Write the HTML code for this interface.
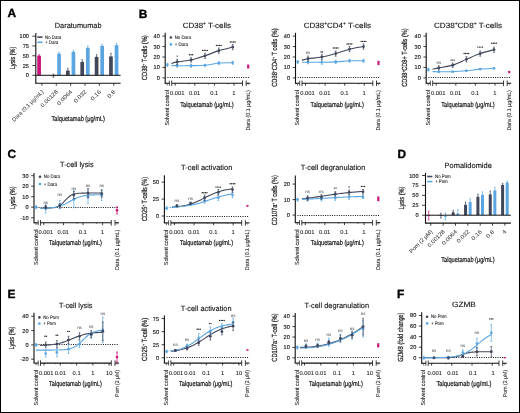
<!DOCTYPE html>
<html><head><meta charset="utf-8"><style>
html,body{margin:0;padding:0;background:#fff;}
svg{display:block;will-change:transform;}
text{font-family:"Liberation Sans",sans-serif;text-rendering:geometricPrecision;}
</style></head><body>
<svg width="520" height="413" viewBox="0 0 520 413">
<rect x="0.5" y="0.5" width="519" height="412" fill="#fff" stroke="#000" stroke-width="1"/>
<text x="7.4" y="17.4" font-size="11.9" fill="#000" stroke="#000" stroke-width="0.35" font-weight="bold">A</text>
<text x="138.7" y="17.6" font-size="11.9" fill="#000" stroke="#000" stroke-width="0.35" font-weight="bold">B</text>
<text x="7.6" y="158" font-size="11.9" fill="#000" stroke="#000" stroke-width="0.35" font-weight="bold">C</text>
<text x="397.6" y="157.5" font-size="11.9" fill="#000" stroke="#000" stroke-width="0.35" font-weight="bold">D</text>
<text x="7.6" y="297.5" font-size="11.9" fill="#000" stroke="#000" stroke-width="0.35" font-weight="bold">E</text>
<text x="397.1" y="297.5" font-size="11.9" fill="#000" stroke="#000" stroke-width="0.35" font-weight="bold">F</text>
<line x1="35.8" y1="32.9" x2="35.8" y2="83.75" stroke="#111" stroke-width="1.1" />
<line x1="32.3" y1="75.3" x2="35.8" y2="75.3" stroke="#111" stroke-width="0.8" />
<text x="28.9" y="77.3" font-size="5.6" fill="#222" stroke="#222" stroke-width="0.15" text-anchor="end">0</text>
<line x1="32.3" y1="65.52" x2="35.8" y2="65.52" stroke="#111" stroke-width="0.8" />
<text x="28.9" y="67.52" font-size="5.6" fill="#222" stroke="#222" stroke-width="0.15" text-anchor="end">25</text>
<line x1="32.3" y1="55.75" x2="35.8" y2="55.75" stroke="#111" stroke-width="0.8" />
<text x="28.9" y="57.75" font-size="5.6" fill="#222" stroke="#222" stroke-width="0.15" text-anchor="end">50</text>
<line x1="32.3" y1="45.97" x2="35.8" y2="45.97" stroke="#111" stroke-width="0.8" />
<text x="28.9" y="47.97" font-size="5.6" fill="#222" stroke="#222" stroke-width="0.15" text-anchor="end">75</text>
<line x1="32.3" y1="36.2" x2="35.8" y2="36.2" stroke="#111" stroke-width="0.8" />
<text x="28.9" y="38.2" font-size="5.6" fill="#222" stroke="#222" stroke-width="0.15" text-anchor="end">100</text>
<line x1="35.8" y1="83.2" x2="120.6" y2="83.2" stroke="#111" stroke-width="1.1" />
<line x1="41.9" y1="83.2" x2="41.9" y2="85.8" stroke="#111" stroke-width="0.8" />
<line x1="56.27" y1="83.2" x2="56.27" y2="85.8" stroke="#111" stroke-width="0.8" />
<line x1="70.64" y1="83.2" x2="70.64" y2="85.8" stroke="#111" stroke-width="0.8" />
<line x1="85.01" y1="83.2" x2="85.01" y2="85.8" stroke="#111" stroke-width="0.8" />
<line x1="99.38" y1="83.2" x2="99.38" y2="85.8" stroke="#111" stroke-width="0.8" />
<line x1="113.75" y1="83.2" x2="113.75" y2="85.8" stroke="#111" stroke-width="0.8" />
<rect x="37.25" y="55.75" width="3.7" height="19.55" fill="#c9157c"/>
<line x1="39.1" y1="54.58" x2="39.1" y2="55.75" stroke="#c9157c" stroke-width="0.7" />
<line x1="38.4" y1="54.58" x2="39.8" y2="54.58" stroke="#c9157c" stroke-width="0.7" />
<line x1="38.4" y1="55.75" x2="39.8" y2="55.75" stroke="#c9157c" stroke-width="0.7" />
<rect x="57.22" y="53.79" width="3.7" height="21.51" fill="#5ba6e1"/>
<line x1="59.07" y1="52.43" x2="59.07" y2="53.79" stroke="#5ba6e1" stroke-width="0.7" />
<line x1="58.37" y1="52.43" x2="59.77" y2="52.43" stroke="#5ba6e1" stroke-width="0.7" />
<line x1="58.37" y1="53.79" x2="59.77" y2="53.79" stroke="#5ba6e1" stroke-width="0.7" />
<rect x="65.99" y="70.61" width="3.7" height="4.69" fill="#41475a"/>
<line x1="67.84" y1="68.26" x2="67.84" y2="70.61" stroke="#41475a" stroke-width="0.7" />
<line x1="67.14" y1="68.26" x2="68.54" y2="68.26" stroke="#41475a" stroke-width="0.7" />
<line x1="67.14" y1="70.61" x2="68.54" y2="70.61" stroke="#41475a" stroke-width="0.7" />
<rect x="71.59" y="51.84" width="3.7" height="23.46" fill="#5ba6e1"/>
<line x1="73.44" y1="50.28" x2="73.44" y2="51.84" stroke="#5ba6e1" stroke-width="0.7" />
<line x1="72.74" y1="50.28" x2="74.14" y2="50.28" stroke="#5ba6e1" stroke-width="0.7" />
<line x1="72.74" y1="51.84" x2="74.14" y2="51.84" stroke="#5ba6e1" stroke-width="0.7" />
<rect x="80.36" y="62.01" width="3.7" height="13.29" fill="#41475a"/>
<line x1="82.21" y1="59.66" x2="82.21" y2="62.01" stroke="#41475a" stroke-width="0.7" />
<line x1="81.51" y1="59.66" x2="82.91" y2="59.66" stroke="#41475a" stroke-width="0.7" />
<line x1="81.51" y1="62.01" x2="82.91" y2="62.01" stroke="#41475a" stroke-width="0.7" />
<rect x="85.96" y="47.93" width="3.7" height="27.37" fill="#5ba6e1"/>
<line x1="87.81" y1="45.97" x2="87.81" y2="47.93" stroke="#5ba6e1" stroke-width="0.7" />
<line x1="87.11" y1="45.97" x2="88.51" y2="45.97" stroke="#5ba6e1" stroke-width="0.7" />
<line x1="87.11" y1="47.93" x2="88.51" y2="47.93" stroke="#5ba6e1" stroke-width="0.7" />
<rect x="94.73" y="56.92" width="3.7" height="18.38" fill="#41475a"/>
<line x1="96.58" y1="54.58" x2="96.58" y2="56.92" stroke="#41475a" stroke-width="0.7" />
<line x1="95.88" y1="54.58" x2="97.28" y2="54.58" stroke="#41475a" stroke-width="0.7" />
<line x1="95.88" y1="56.92" x2="97.28" y2="56.92" stroke="#41475a" stroke-width="0.7" />
<rect x="100.33" y="45.97" width="3.7" height="29.33" fill="#5ba6e1"/>
<line x1="102.18" y1="44.41" x2="102.18" y2="45.97" stroke="#5ba6e1" stroke-width="0.7" />
<line x1="101.48" y1="44.41" x2="102.88" y2="44.41" stroke="#5ba6e1" stroke-width="0.7" />
<line x1="101.48" y1="45.97" x2="102.88" y2="45.97" stroke="#5ba6e1" stroke-width="0.7" />
<rect x="109.1" y="56.53" width="3.7" height="18.77" fill="#41475a"/>
<line x1="110.95" y1="53.4" x2="110.95" y2="56.53" stroke="#41475a" stroke-width="0.7" />
<line x1="110.25" y1="53.4" x2="111.65" y2="53.4" stroke="#41475a" stroke-width="0.7" />
<line x1="110.25" y1="56.53" x2="111.65" y2="56.53" stroke="#41475a" stroke-width="0.7" />
<rect x="114.7" y="45.19" width="3.7" height="30.11" fill="#5ba6e1"/>
<line x1="116.55" y1="43.24" x2="116.55" y2="45.19" stroke="#5ba6e1" stroke-width="0.7" />
<line x1="115.85" y1="43.24" x2="117.25" y2="43.24" stroke="#5ba6e1" stroke-width="0.7" />
<line x1="115.85" y1="45.19" x2="117.25" y2="45.19" stroke="#5ba6e1" stroke-width="0.7" />
<line x1="53.47" y1="74.13" x2="53.47" y2="77.25" stroke="#41475a" stroke-width="0.7" />
<line x1="52.67" y1="74.13" x2="54.27" y2="74.13" stroke="#41475a" stroke-width="0.7" />
<line x1="52.67" y1="77.25" x2="54.27" y2="77.25" stroke="#41475a" stroke-width="0.7" />
<line x1="51.62" y1="75.69" x2="55.32" y2="75.69" stroke="#41475a" stroke-width="0.8" />
<line x1="35.8" y1="75.3" x2="120.6" y2="75.3" stroke="#111" stroke-width="1.0" />
<line x1="37.3" y1="37.1" x2="42.5" y2="37.1" stroke="#41475a" stroke-width="1.6" />
<line x1="37.3" y1="42.3" x2="42.5" y2="42.3" stroke="#5ba6e1" stroke-width="1.6" />
<text x="45.1" y="38.7" font-size="4.9" fill="#222" stroke="#222" stroke-width="0.1" textLength="16.2" lengthAdjust="spacingAndGlyphs">No Dara</text>
<text x="45.1" y="43.9" font-size="4.9" fill="#222" stroke="#222" stroke-width="0.1" textLength="13.18" lengthAdjust="spacingAndGlyphs">+ Dara</text>
<text x="54.8" y="27.6" font-size="7.6" fill="#111" stroke="#111" stroke-width="0.12" textLength="46.7" lengthAdjust="spacingAndGlyphs">Daratumumab</text>
<text transform="translate(14.6,57.9) rotate(-90)" font-size="7.4" fill="#111" stroke="#111" stroke-width="0.2" text-anchor="middle" textLength="22.6" lengthAdjust="spacingAndGlyphs">Lysis (%)</text>
<text x="51.5" y="120.9" font-size="7.1" fill="#111" stroke="#111" stroke-width="0.2" textLength="53.4" lengthAdjust="spacingAndGlyphs">Talquetamab (μg/mL)</text>
<text transform="translate(43.9,92.2) rotate(-45)" font-size="5.6" fill="#222" text-anchor="end" textLength="42" lengthAdjust="spacingAndGlyphs">Dara (0.1 μg/mL)</text>
<text transform="translate(58.27,92.2) rotate(-45)" font-size="5.6" fill="#222" text-anchor="end" textLength="21.84" lengthAdjust="spacingAndGlyphs">0.00128</text>
<text transform="translate(72.64,92.2) rotate(-45)" font-size="5.6" fill="#222" text-anchor="end" textLength="19.04" lengthAdjust="spacingAndGlyphs">0.0064</text>
<text transform="translate(87.01,92.2) rotate(-45)" font-size="5.6" fill="#222" text-anchor="end" textLength="15.68" lengthAdjust="spacingAndGlyphs">0.032</text>
<text transform="translate(101.38,92.2) rotate(-45)" font-size="5.6" fill="#222" text-anchor="end" textLength="12.32" lengthAdjust="spacingAndGlyphs">0.16</text>
<text transform="translate(115.75,92.2) rotate(-45)" font-size="5.6" fill="#222" text-anchor="end" textLength="8.96" lengthAdjust="spacingAndGlyphs">0.8</text>
<line x1="425.5" y1="172.9" x2="425.5" y2="223.65" stroke="#111" stroke-width="1.1" />
<line x1="422" y1="215.2" x2="425.5" y2="215.2" stroke="#111" stroke-width="0.8" />
<text x="418.6" y="217.2" font-size="5.6" fill="#222" stroke="#222" stroke-width="0.15" text-anchor="end">0</text>
<line x1="422" y1="205.27" x2="425.5" y2="205.27" stroke="#111" stroke-width="0.8" />
<text x="418.6" y="207.27" font-size="5.6" fill="#222" stroke="#222" stroke-width="0.15" text-anchor="end">25</text>
<line x1="422" y1="195.35" x2="425.5" y2="195.35" stroke="#111" stroke-width="0.8" />
<text x="418.6" y="197.35" font-size="5.6" fill="#222" stroke="#222" stroke-width="0.15" text-anchor="end">50</text>
<line x1="422" y1="185.42" x2="425.5" y2="185.42" stroke="#111" stroke-width="0.8" />
<text x="418.6" y="187.42" font-size="5.6" fill="#222" stroke="#222" stroke-width="0.15" text-anchor="end">75</text>
<line x1="422" y1="175.5" x2="425.5" y2="175.5" stroke="#111" stroke-width="0.8" />
<text x="418.6" y="177.5" font-size="5.6" fill="#222" stroke="#222" stroke-width="0.15" text-anchor="end">100</text>
<line x1="425.5" y1="223.1" x2="510.9" y2="223.1" stroke="#111" stroke-width="1.1" />
<line x1="430.8" y1="223.1" x2="430.8" y2="225.7" stroke="#111" stroke-width="0.8" />
<line x1="443.15" y1="223.1" x2="443.15" y2="225.7" stroke="#111" stroke-width="0.8" />
<line x1="455.5" y1="223.1" x2="455.5" y2="225.7" stroke="#111" stroke-width="0.8" />
<line x1="467.85" y1="223.1" x2="467.85" y2="225.7" stroke="#111" stroke-width="0.8" />
<line x1="480.2" y1="223.1" x2="480.2" y2="225.7" stroke="#111" stroke-width="0.8" />
<line x1="492.55" y1="223.1" x2="492.55" y2="225.7" stroke="#111" stroke-width="0.8" />
<line x1="504.9" y1="223.1" x2="504.9" y2="225.7" stroke="#111" stroke-width="0.8" />
<rect x="451.7" y="212.42" width="3" height="2.78" fill="#41475a"/>
<line x1="453.2" y1="210.44" x2="453.2" y2="212.42" stroke="#41475a" stroke-width="0.7" />
<line x1="452.5" y1="210.44" x2="453.9" y2="210.44" stroke="#41475a" stroke-width="0.7" />
<line x1="452.5" y1="212.42" x2="453.9" y2="212.42" stroke="#41475a" stroke-width="0.7" />
<rect x="456.3" y="213.61" width="3" height="1.59" fill="#5ba6e1"/>
<line x1="457.8" y1="209.64" x2="457.8" y2="213.61" stroke="#5ba6e1" stroke-width="0.7" />
<line x1="457.1" y1="209.64" x2="458.5" y2="209.64" stroke="#5ba6e1" stroke-width="0.7" />
<line x1="457.1" y1="213.61" x2="458.5" y2="213.61" stroke="#5ba6e1" stroke-width="0.7" />
<rect x="464.05" y="204.88" width="3" height="10.32" fill="#41475a"/>
<line x1="465.55" y1="202.1" x2="465.55" y2="204.88" stroke="#41475a" stroke-width="0.7" />
<line x1="464.85" y1="202.1" x2="466.25" y2="202.1" stroke="#41475a" stroke-width="0.7" />
<line x1="464.85" y1="204.88" x2="466.25" y2="204.88" stroke="#41475a" stroke-width="0.7" />
<rect x="468.65" y="202.1" width="3" height="13.1" fill="#5ba6e1"/>
<line x1="470.15" y1="198.92" x2="470.15" y2="202.1" stroke="#5ba6e1" stroke-width="0.7" />
<line x1="469.45" y1="198.92" x2="470.85" y2="198.92" stroke="#5ba6e1" stroke-width="0.7" />
<line x1="469.45" y1="202.1" x2="470.85" y2="202.1" stroke="#5ba6e1" stroke-width="0.7" />
<rect x="476.4" y="196.94" width="3" height="18.26" fill="#41475a"/>
<line x1="477.9" y1="194.16" x2="477.9" y2="196.94" stroke="#41475a" stroke-width="0.7" />
<line x1="477.2" y1="194.16" x2="478.6" y2="194.16" stroke="#41475a" stroke-width="0.7" />
<line x1="477.2" y1="196.94" x2="478.6" y2="196.94" stroke="#41475a" stroke-width="0.7" />
<rect x="481" y="194.95" width="3" height="20.25" fill="#5ba6e1"/>
<line x1="482.5" y1="191.78" x2="482.5" y2="194.95" stroke="#5ba6e1" stroke-width="0.7" />
<line x1="481.8" y1="191.78" x2="483.2" y2="191.78" stroke="#5ba6e1" stroke-width="0.7" />
<line x1="481.8" y1="194.95" x2="483.2" y2="194.95" stroke="#5ba6e1" stroke-width="0.7" />
<rect x="488.75" y="194.56" width="3" height="20.64" fill="#41475a"/>
<line x1="490.25" y1="190.98" x2="490.25" y2="194.56" stroke="#41475a" stroke-width="0.7" />
<line x1="489.55" y1="190.98" x2="490.95" y2="190.98" stroke="#41475a" stroke-width="0.7" />
<line x1="489.55" y1="194.56" x2="490.95" y2="194.56" stroke="#41475a" stroke-width="0.7" />
<rect x="493.35" y="190.59" width="3" height="24.61" fill="#5ba6e1"/>
<line x1="494.85" y1="187.41" x2="494.85" y2="190.59" stroke="#5ba6e1" stroke-width="0.7" />
<line x1="494.15" y1="187.41" x2="495.55" y2="187.41" stroke="#5ba6e1" stroke-width="0.7" />
<line x1="494.15" y1="190.59" x2="495.55" y2="190.59" stroke="#5ba6e1" stroke-width="0.7" />
<rect x="501.1" y="185.03" width="3" height="30.17" fill="#41475a"/>
<line x1="502.6" y1="183.44" x2="502.6" y2="185.03" stroke="#41475a" stroke-width="0.7" />
<line x1="501.9" y1="183.44" x2="503.3" y2="183.44" stroke="#41475a" stroke-width="0.7" />
<line x1="501.9" y1="185.03" x2="503.3" y2="185.03" stroke="#41475a" stroke-width="0.7" />
<rect x="505.7" y="182.65" width="3" height="32.55" fill="#5ba6e1"/>
<line x1="507.2" y1="181.06" x2="507.2" y2="182.65" stroke="#5ba6e1" stroke-width="0.7" />
<line x1="506.5" y1="181.06" x2="507.9" y2="181.06" stroke="#5ba6e1" stroke-width="0.7" />
<line x1="506.5" y1="182.65" x2="507.9" y2="182.65" stroke="#5ba6e1" stroke-width="0.7" />
<line x1="428.7" y1="211.23" x2="428.7" y2="219.96" stroke="#c9157c" stroke-width="0.7" />
<line x1="427.9" y1="211.23" x2="429.5" y2="211.23" stroke="#c9157c" stroke-width="0.7" />
<line x1="427.9" y1="219.96" x2="429.5" y2="219.96" stroke="#c9157c" stroke-width="0.7" />
<line x1="427.2" y1="215.6" x2="430.2" y2="215.6" stroke="#c9157c" stroke-width="0.8" />
<line x1="440.85" y1="213.21" x2="440.85" y2="217.98" stroke="#41475a" stroke-width="0.7" />
<line x1="440.05" y1="213.21" x2="441.65" y2="213.21" stroke="#41475a" stroke-width="0.7" />
<line x1="440.05" y1="217.98" x2="441.65" y2="217.98" stroke="#41475a" stroke-width="0.7" />
<line x1="439.35" y1="215.6" x2="442.35" y2="215.6" stroke="#41475a" stroke-width="0.8" />
<line x1="445.45" y1="212.82" x2="445.45" y2="219.96" stroke="#5ba6e1" stroke-width="0.7" />
<line x1="444.65" y1="212.82" x2="446.25" y2="212.82" stroke="#5ba6e1" stroke-width="0.7" />
<line x1="444.65" y1="219.96" x2="446.25" y2="219.96" stroke="#5ba6e1" stroke-width="0.7" />
<line x1="443.95" y1="216.39" x2="446.95" y2="216.39" stroke="#5ba6e1" stroke-width="0.8" />
<line x1="425.5" y1="215.2" x2="510.9" y2="215.2" stroke="#111" stroke-width="1.0" />
<line x1="427.2" y1="176.5" x2="432.4" y2="176.5" stroke="#41475a" stroke-width="1.6" />
<line x1="427.2" y1="181.6" x2="432.4" y2="181.6" stroke="#5ba6e1" stroke-width="1.6" />
<text x="435" y="178.1" font-size="4.9" fill="#222" stroke="#222" stroke-width="0.1" textLength="15.71" lengthAdjust="spacingAndGlyphs">No Pom</text>
<text x="435" y="183.2" font-size="4.9" fill="#222" stroke="#222" stroke-width="0.1" textLength="12.69" lengthAdjust="spacingAndGlyphs">+ Pom</text>
<text x="444.6" y="167.8" font-size="7.6" fill="#111" stroke="#111" stroke-width="0.12" textLength="47.2" lengthAdjust="spacingAndGlyphs">Pomalidomide</text>
<text transform="translate(404.4,198) rotate(-90)" font-size="7.4" fill="#111" stroke="#111" stroke-width="0.2" text-anchor="middle" textLength="23" lengthAdjust="spacingAndGlyphs">Lysis (%)</text>
<text x="441.3" y="261.5" font-size="7.1" fill="#111" stroke="#111" stroke-width="0.2" textLength="53.3" lengthAdjust="spacingAndGlyphs">Talquetamab (μg/mL)</text>
<text transform="translate(432.8,232.1) rotate(-45)" font-size="5.6" fill="#222" text-anchor="end" textLength="30.24" lengthAdjust="spacingAndGlyphs">Pom (2 μM)</text>
<text transform="translate(445.15,232.1) rotate(-45)" font-size="5.6" fill="#222" text-anchor="end" textLength="21.84" lengthAdjust="spacingAndGlyphs">0.00128</text>
<text transform="translate(457.5,232.1) rotate(-45)" font-size="5.6" fill="#222" text-anchor="end" textLength="19.04" lengthAdjust="spacingAndGlyphs">0.0064</text>
<text transform="translate(469.85,232.1) rotate(-45)" font-size="5.6" fill="#222" text-anchor="end" textLength="15.68" lengthAdjust="spacingAndGlyphs">0.032</text>
<text transform="translate(482.2,232.1) rotate(-45)" font-size="5.6" fill="#222" text-anchor="end" textLength="12.32" lengthAdjust="spacingAndGlyphs">0.16</text>
<text transform="translate(494.55,232.1) rotate(-45)" font-size="5.6" fill="#222" text-anchor="end" textLength="8.96" lengthAdjust="spacingAndGlyphs">0.8</text>
<text transform="translate(506.9,232.1) rotate(-45)" font-size="5.6" fill="#222" text-anchor="end" textLength="3.36" lengthAdjust="spacingAndGlyphs">4</text>
<line x1="165.2" y1="32.8" x2="165.2" y2="83.3" stroke="#111" stroke-width="1.1" />
<line x1="162.4" y1="77.9" x2="165.2" y2="77.9" stroke="#111" stroke-width="0.8" />
<text x="159.8" y="79.9" font-size="5.6" fill="#222" stroke="#222" stroke-width="0.15" text-anchor="end">0</text>
<line x1="162.4" y1="67.45" x2="165.2" y2="67.45" stroke="#111" stroke-width="0.8" />
<text x="159.8" y="69.45" font-size="5.6" fill="#222" stroke="#222" stroke-width="0.15" text-anchor="end">10</text>
<line x1="162.4" y1="57" x2="165.2" y2="57" stroke="#111" stroke-width="0.8" />
<text x="159.8" y="59" font-size="5.6" fill="#222" stroke="#222" stroke-width="0.15" text-anchor="end">20</text>
<line x1="162.4" y1="46.55" x2="165.2" y2="46.55" stroke="#111" stroke-width="0.8" />
<text x="159.8" y="48.55" font-size="5.6" fill="#222" stroke="#222" stroke-width="0.15" text-anchor="end">30</text>
<line x1="162.4" y1="36.1" x2="165.2" y2="36.1" stroke="#111" stroke-width="0.8" />
<text x="159.8" y="38.1" font-size="5.6" fill="#222" stroke="#222" stroke-width="0.15" text-anchor="end">40</text>
<line x1="164.65" y1="83.3" x2="169.4" y2="83.3" stroke="#111" stroke-width="1.1" />
<line x1="167.2" y1="83.3" x2="167.2" y2="85.5" stroke="#333" stroke-width="0.7" />
<line x1="169.4" y1="80.7" x2="169.4" y2="85.7" stroke="#222" stroke-width="0.8" />
<line x1="171.7" y1="80.5" x2="171.7" y2="86.1" stroke="#111" stroke-width="0.8" />
<line x1="171.7" y1="83.3" x2="242.5" y2="83.3" stroke="#111" stroke-width="1.1" />
<line x1="242.5" y1="80.5" x2="242.5" y2="86.1" stroke="#111" stroke-width="0.8" />
<line x1="246.2" y1="80.5" x2="246.2" y2="86.1" stroke="#111" stroke-width="0.8" />
<line x1="246.2" y1="83.3" x2="250.2" y2="83.3" stroke="#111" stroke-width="1.1" />
<line x1="248.2" y1="83.3" x2="248.2" y2="85.1" stroke="#555" stroke-width="0.6" />
<line x1="175.2" y1="83.3" x2="175.2" y2="85.7" stroke="#111" stroke-width="0.8" />
<text x="177.2" y="94.7" font-size="5.8" fill="#222" stroke="#222" stroke-width="0.08" text-anchor="middle">0.001</text>
<line x1="194.8" y1="83.3" x2="194.8" y2="85.7" stroke="#111" stroke-width="0.8" />
<line x1="188.92" y1="83.3" x2="188.92" y2="84.5" stroke="#333" stroke-width="0.6" />
<text x="194.6" y="94.7" font-size="5.8" fill="#222" stroke="#222" stroke-width="0.08" text-anchor="middle">0.01</text>
<line x1="214.4" y1="83.3" x2="214.4" y2="85.7" stroke="#111" stroke-width="0.8" />
<line x1="208.52" y1="83.3" x2="208.52" y2="84.5" stroke="#333" stroke-width="0.6" />
<text x="214.2" y="94.7" font-size="5.8" fill="#222" stroke="#222" stroke-width="0.08" text-anchor="middle">0.1</text>
<line x1="234" y1="83.3" x2="234" y2="85.7" stroke="#111" stroke-width="0.8" />
<line x1="228.12" y1="83.3" x2="228.12" y2="84.5" stroke="#333" stroke-width="0.6" />
<text x="233.8" y="94.7" font-size="5.8" fill="#222" stroke="#222" stroke-width="0.08" text-anchor="middle">1</text>
<line x1="167.4" y1="77.5" x2="249.7" y2="77.5" stroke="#111" stroke-width="1.0" stroke-dasharray="1.0 1.3"/>
<path d="M171.4,63.69 C172.37,63.39 173.92,62.54 177.2,61.91 C180.48,61.28 186.47,60.94 191.1,59.93 C195.73,58.92 200.38,57.4 205,55.85 C209.62,54.3 214.18,52.09 218.8,50.63 C223.42,49.16 230.38,47.66 232.7,47.07" fill="none" stroke="#41475a" stroke-width="1.1" />
<path d="M171.4,65.57 C172.37,65.59 173.92,65.66 177.2,65.67 C180.48,65.69 186.47,65.74 191.1,65.67 C195.73,65.6 200.38,65.69 205,65.26 C209.62,64.82 214.18,63.48 218.8,63.06 C223.42,62.64 230.38,62.8 232.7,62.75" fill="none" stroke="#5ba6e1" stroke-width="1.1" />
<line x1="177.2" y1="64.11" x2="177.2" y2="67.24" stroke="#5ba6e1" stroke-width="0.7" />
<line x1="176.3" y1="64.11" x2="178.1" y2="64.11" stroke="#5ba6e1" stroke-width="0.7" />
<line x1="176.3" y1="67.24" x2="178.1" y2="67.24" stroke="#5ba6e1" stroke-width="0.7" />
<circle cx="177.2" cy="65.67" r="1.35" fill="#5ba6e1"/>
<line x1="191.1" y1="64.11" x2="191.1" y2="67.24" stroke="#5ba6e1" stroke-width="0.7" />
<line x1="190.2" y1="64.11" x2="192" y2="64.11" stroke="#5ba6e1" stroke-width="0.7" />
<line x1="190.2" y1="67.24" x2="192" y2="67.24" stroke="#5ba6e1" stroke-width="0.7" />
<circle cx="191.1" cy="65.67" r="1.35" fill="#5ba6e1"/>
<line x1="205" y1="64.21" x2="205" y2="66.3" stroke="#5ba6e1" stroke-width="0.7" />
<line x1="204.1" y1="64.21" x2="205.9" y2="64.21" stroke="#5ba6e1" stroke-width="0.7" />
<line x1="204.1" y1="66.3" x2="205.9" y2="66.3" stroke="#5ba6e1" stroke-width="0.7" />
<circle cx="205" cy="65.26" r="1.35" fill="#5ba6e1"/>
<line x1="218.8" y1="61.49" x2="218.8" y2="64.63" stroke="#5ba6e1" stroke-width="0.7" />
<line x1="217.9" y1="61.49" x2="219.7" y2="61.49" stroke="#5ba6e1" stroke-width="0.7" />
<line x1="217.9" y1="64.63" x2="219.7" y2="64.63" stroke="#5ba6e1" stroke-width="0.7" />
<circle cx="218.8" cy="63.06" r="1.35" fill="#5ba6e1"/>
<line x1="232.7" y1="61.18" x2="232.7" y2="64.32" stroke="#5ba6e1" stroke-width="0.7" />
<line x1="231.8" y1="61.18" x2="233.6" y2="61.18" stroke="#5ba6e1" stroke-width="0.7" />
<line x1="231.8" y1="64.32" x2="233.6" y2="64.32" stroke="#5ba6e1" stroke-width="0.7" />
<circle cx="232.7" cy="62.75" r="1.35" fill="#5ba6e1"/>
<line x1="177.2" y1="59.3" x2="177.2" y2="64.52" stroke="#41475a" stroke-width="0.7" />
<line x1="176.3" y1="59.3" x2="178.1" y2="59.3" stroke="#41475a" stroke-width="0.7" />
<line x1="176.3" y1="64.52" x2="178.1" y2="64.52" stroke="#41475a" stroke-width="0.7" />
<circle cx="177.2" cy="61.91" r="1.4" fill="#41475a"/>
<line x1="191.1" y1="57.84" x2="191.1" y2="62.02" stroke="#41475a" stroke-width="0.7" />
<line x1="190.2" y1="57.84" x2="192" y2="57.84" stroke="#41475a" stroke-width="0.7" />
<line x1="190.2" y1="62.02" x2="192" y2="62.02" stroke="#41475a" stroke-width="0.7" />
<circle cx="191.1" cy="59.93" r="1.4" fill="#41475a"/>
<line x1="205" y1="53.24" x2="205" y2="58.46" stroke="#41475a" stroke-width="0.7" />
<line x1="204.1" y1="53.24" x2="205.9" y2="53.24" stroke="#41475a" stroke-width="0.7" />
<line x1="204.1" y1="58.46" x2="205.9" y2="58.46" stroke="#41475a" stroke-width="0.7" />
<circle cx="205" cy="55.85" r="1.4" fill="#41475a"/>
<line x1="218.8" y1="48.01" x2="218.8" y2="53.24" stroke="#41475a" stroke-width="0.7" />
<line x1="217.9" y1="48.01" x2="219.7" y2="48.01" stroke="#41475a" stroke-width="0.7" />
<line x1="217.9" y1="53.24" x2="219.7" y2="53.24" stroke="#41475a" stroke-width="0.7" />
<circle cx="218.8" cy="50.63" r="1.4" fill="#41475a"/>
<line x1="232.7" y1="44.46" x2="232.7" y2="49.69" stroke="#41475a" stroke-width="0.7" />
<line x1="231.8" y1="44.46" x2="233.6" y2="44.46" stroke="#41475a" stroke-width="0.7" />
<line x1="231.8" y1="49.69" x2="233.6" y2="49.69" stroke="#41475a" stroke-width="0.7" />
<circle cx="232.7" cy="47.07" r="1.4" fill="#41475a"/>
<line x1="167.4" y1="63.34" x2="167.4" y2="66.34" stroke="#5ba6e1" stroke-width="0.7" />
<line x1="166.6" y1="63.34" x2="168.2" y2="63.34" stroke="#5ba6e1" stroke-width="0.7" />
<line x1="166.6" y1="66.34" x2="168.2" y2="66.34" stroke="#5ba6e1" stroke-width="0.7" />
<circle cx="167.4" cy="64.84" r="1.35" fill="#5ba6e1"/>
<rect x="247.1" y="64.55" width="2.2" height="3.93" fill="#c9157c"/>
<circle cx="177.2" cy="56.1" r="0.7" fill="#222"/>
<circle cx="189.55" cy="54.8" r="0.7" fill="#222"/>
<circle cx="191.1" cy="54.8" r="0.7" fill="#222"/>
<circle cx="192.65" cy="54.8" r="0.7" fill="#222"/>
<circle cx="202.68" cy="50.4" r="0.7" fill="#222"/>
<circle cx="204.23" cy="50.4" r="0.7" fill="#222"/>
<circle cx="205.78" cy="50.4" r="0.7" fill="#222"/>
<circle cx="207.33" cy="50.4" r="0.7" fill="#222"/>
<circle cx="216.48" cy="45.4" r="0.7" fill="#222"/>
<circle cx="218.03" cy="45.4" r="0.7" fill="#222"/>
<circle cx="219.58" cy="45.4" r="0.7" fill="#222"/>
<circle cx="221.13" cy="45.4" r="0.7" fill="#222"/>
<circle cx="230.38" cy="42" r="0.7" fill="#222"/>
<circle cx="231.93" cy="42" r="0.7" fill="#222"/>
<circle cx="233.47" cy="42" r="0.7" fill="#222"/>
<circle cx="235.03" cy="42" r="0.7" fill="#222"/>
<circle cx="170.9" cy="37.5" r="1.3" fill="#41475a"/>
<circle cx="170.9" cy="44.4" r="1.3" fill="#5ba6e1"/>
<text x="174.7" y="39.1" font-size="4.9" fill="#222" stroke="#222" stroke-width="0.1" textLength="16.2" lengthAdjust="spacingAndGlyphs">No Dara</text>
<text x="174.7" y="46" font-size="4.9" fill="#222" stroke="#222" stroke-width="0.1" textLength="13.18" lengthAdjust="spacingAndGlyphs">+ Dara</text>
<text x="182.8" y="27.7" font-size="7.6" fill="#111" stroke="#111" stroke-width="0.12" textLength="48.1" lengthAdjust="spacingAndGlyphs">CD38<tspan font-size="4.59" dy="-2.81">+</tspan><tspan dy="2.81">​</tspan> T-cells</text>
<text transform="translate(146.9,57.7) rotate(-90)" font-size="7.4" fill="#111" stroke="#111" stroke-width="0.2" text-anchor="middle" textLength="44.9" lengthAdjust="spacingAndGlyphs">CD38<tspan font-size="3.84" dy="-2.36">+</tspan><tspan dy="2.36">​</tspan> T-cells (%)</text>
<text x="180.3" y="106.5" font-size="7.1" fill="#111" stroke="#111" stroke-width="0.2" textLength="53.4" lengthAdjust="spacingAndGlyphs">Talquetamab (μg/mL)</text>
<text transform="translate(168.9,90.1) rotate(-90)" font-size="5.8" fill="#222" stroke="#222" stroke-width="0.08" text-anchor="end" textLength="35.5" lengthAdjust="spacingAndGlyphs">Solvent control</text>
<text transform="translate(250.1,90.1) rotate(-90)" font-size="5.8" fill="#222" stroke="#222" stroke-width="0.08" text-anchor="end" textLength="40.5" lengthAdjust="spacingAndGlyphs">Dara (0.1 μg/mL)</text>
<line x1="295.5" y1="32.8" x2="295.5" y2="83.3" stroke="#111" stroke-width="1.1" />
<line x1="292.7" y1="77.9" x2="295.5" y2="77.9" stroke="#111" stroke-width="0.8" />
<text x="290.1" y="79.9" font-size="5.6" fill="#222" stroke="#222" stroke-width="0.15" text-anchor="end">0</text>
<line x1="292.7" y1="67.45" x2="295.5" y2="67.45" stroke="#111" stroke-width="0.8" />
<text x="290.1" y="69.45" font-size="5.6" fill="#222" stroke="#222" stroke-width="0.15" text-anchor="end">10</text>
<line x1="292.7" y1="57" x2="295.5" y2="57" stroke="#111" stroke-width="0.8" />
<text x="290.1" y="59" font-size="5.6" fill="#222" stroke="#222" stroke-width="0.15" text-anchor="end">20</text>
<line x1="292.7" y1="46.55" x2="295.5" y2="46.55" stroke="#111" stroke-width="0.8" />
<text x="290.1" y="48.55" font-size="5.6" fill="#222" stroke="#222" stroke-width="0.15" text-anchor="end">30</text>
<line x1="292.7" y1="36.1" x2="295.5" y2="36.1" stroke="#111" stroke-width="0.8" />
<text x="290.1" y="38.1" font-size="5.6" fill="#222" stroke="#222" stroke-width="0.15" text-anchor="end">40</text>
<line x1="294.95" y1="83.3" x2="299.7" y2="83.3" stroke="#111" stroke-width="1.1" />
<line x1="297.5" y1="83.3" x2="297.5" y2="85.5" stroke="#333" stroke-width="0.7" />
<line x1="299.7" y1="80.7" x2="299.7" y2="85.7" stroke="#222" stroke-width="0.8" />
<line x1="302" y1="80.5" x2="302" y2="86.1" stroke="#111" stroke-width="0.8" />
<line x1="302" y1="83.3" x2="372.8" y2="83.3" stroke="#111" stroke-width="1.1" />
<line x1="372.8" y1="80.5" x2="372.8" y2="86.1" stroke="#111" stroke-width="0.8" />
<line x1="376.5" y1="80.5" x2="376.5" y2="86.1" stroke="#111" stroke-width="0.8" />
<line x1="376.5" y1="83.3" x2="380.5" y2="83.3" stroke="#111" stroke-width="1.1" />
<line x1="378.5" y1="83.3" x2="378.5" y2="85.1" stroke="#555" stroke-width="0.6" />
<line x1="305.5" y1="83.3" x2="305.5" y2="85.7" stroke="#111" stroke-width="0.8" />
<text x="307.5" y="94.7" font-size="5.8" fill="#222" stroke="#222" stroke-width="0.08" text-anchor="middle">0.001</text>
<line x1="325.1" y1="83.3" x2="325.1" y2="85.7" stroke="#111" stroke-width="0.8" />
<line x1="319.22" y1="83.3" x2="319.22" y2="84.5" stroke="#333" stroke-width="0.6" />
<text x="324.9" y="94.7" font-size="5.8" fill="#222" stroke="#222" stroke-width="0.08" text-anchor="middle">0.01</text>
<line x1="344.7" y1="83.3" x2="344.7" y2="85.7" stroke="#111" stroke-width="0.8" />
<line x1="338.82" y1="83.3" x2="338.82" y2="84.5" stroke="#333" stroke-width="0.6" />
<text x="344.5" y="94.7" font-size="5.8" fill="#222" stroke="#222" stroke-width="0.08" text-anchor="middle">0.1</text>
<line x1="364.3" y1="83.3" x2="364.3" y2="85.7" stroke="#111" stroke-width="0.8" />
<line x1="358.42" y1="83.3" x2="358.42" y2="84.5" stroke="#333" stroke-width="0.6" />
<text x="364.1" y="94.7" font-size="5.8" fill="#222" stroke="#222" stroke-width="0.08" text-anchor="middle">1</text>
<line x1="297.7" y1="77.5" x2="380" y2="77.5" stroke="#111" stroke-width="1.0" stroke-dasharray="1.0 1.3"/>
<path d="M302,60.14 C303,59.89 304.7,59.19 308,58.67 C311.3,58.15 317.18,57.85 321.8,57 C326.42,56.15 331.08,54.86 335.7,53.55 C340.32,52.25 344.87,50.33 349.5,49.16 C354.13,48 361.17,46.99 363.5,46.55" fill="none" stroke="#41475a" stroke-width="1.1" />
<path d="M302,62.23 C303,62.23 304.7,62.23 308,62.23 C311.3,62.23 317.18,62.28 321.8,62.23 C326.42,62.17 331.08,62.16 335.7,61.91 C340.32,61.67 344.87,60.95 349.5,60.76 C354.13,60.57 361.17,60.76 363.5,60.76" fill="none" stroke="#5ba6e1" stroke-width="1.1" />
<line x1="308" y1="60.66" x2="308" y2="63.79" stroke="#5ba6e1" stroke-width="0.7" />
<line x1="307.1" y1="60.66" x2="308.9" y2="60.66" stroke="#5ba6e1" stroke-width="0.7" />
<line x1="307.1" y1="63.79" x2="308.9" y2="63.79" stroke="#5ba6e1" stroke-width="0.7" />
<circle cx="308" cy="62.23" r="1.35" fill="#5ba6e1"/>
<line x1="321.8" y1="60.14" x2="321.8" y2="64.32" stroke="#5ba6e1" stroke-width="0.7" />
<line x1="320.9" y1="60.14" x2="322.7" y2="60.14" stroke="#5ba6e1" stroke-width="0.7" />
<line x1="320.9" y1="64.32" x2="322.7" y2="64.32" stroke="#5ba6e1" stroke-width="0.7" />
<circle cx="321.8" cy="62.23" r="1.35" fill="#5ba6e1"/>
<line x1="335.7" y1="60.34" x2="335.7" y2="63.48" stroke="#5ba6e1" stroke-width="0.7" />
<line x1="334.8" y1="60.34" x2="336.6" y2="60.34" stroke="#5ba6e1" stroke-width="0.7" />
<line x1="334.8" y1="63.48" x2="336.6" y2="63.48" stroke="#5ba6e1" stroke-width="0.7" />
<circle cx="335.7" cy="61.91" r="1.35" fill="#5ba6e1"/>
<line x1="349.5" y1="59.19" x2="349.5" y2="62.33" stroke="#5ba6e1" stroke-width="0.7" />
<line x1="348.6" y1="59.19" x2="350.4" y2="59.19" stroke="#5ba6e1" stroke-width="0.7" />
<line x1="348.6" y1="62.33" x2="350.4" y2="62.33" stroke="#5ba6e1" stroke-width="0.7" />
<circle cx="349.5" cy="60.76" r="1.35" fill="#5ba6e1"/>
<line x1="363.5" y1="59.19" x2="363.5" y2="62.33" stroke="#5ba6e1" stroke-width="0.7" />
<line x1="362.6" y1="59.19" x2="364.4" y2="59.19" stroke="#5ba6e1" stroke-width="0.7" />
<line x1="362.6" y1="62.33" x2="364.4" y2="62.33" stroke="#5ba6e1" stroke-width="0.7" />
<circle cx="363.5" cy="60.76" r="1.35" fill="#5ba6e1"/>
<line x1="308" y1="56.06" x2="308" y2="61.28" stroke="#41475a" stroke-width="0.7" />
<line x1="307.1" y1="56.06" x2="308.9" y2="56.06" stroke="#41475a" stroke-width="0.7" />
<line x1="307.1" y1="61.28" x2="308.9" y2="61.28" stroke="#41475a" stroke-width="0.7" />
<circle cx="308" cy="58.67" r="1.4" fill="#41475a"/>
<line x1="321.8" y1="54.39" x2="321.8" y2="59.61" stroke="#41475a" stroke-width="0.7" />
<line x1="320.9" y1="54.39" x2="322.7" y2="54.39" stroke="#41475a" stroke-width="0.7" />
<line x1="320.9" y1="59.61" x2="322.7" y2="59.61" stroke="#41475a" stroke-width="0.7" />
<circle cx="321.8" cy="57" r="1.4" fill="#41475a"/>
<line x1="335.7" y1="50.94" x2="335.7" y2="56.16" stroke="#41475a" stroke-width="0.7" />
<line x1="334.8" y1="50.94" x2="336.6" y2="50.94" stroke="#41475a" stroke-width="0.7" />
<line x1="334.8" y1="56.16" x2="336.6" y2="56.16" stroke="#41475a" stroke-width="0.7" />
<circle cx="335.7" cy="53.55" r="1.4" fill="#41475a"/>
<line x1="349.5" y1="46.55" x2="349.5" y2="51.78" stroke="#41475a" stroke-width="0.7" />
<line x1="348.6" y1="46.55" x2="350.4" y2="46.55" stroke="#41475a" stroke-width="0.7" />
<line x1="348.6" y1="51.78" x2="350.4" y2="51.78" stroke="#41475a" stroke-width="0.7" />
<circle cx="349.5" cy="49.16" r="1.4" fill="#41475a"/>
<line x1="363.5" y1="43.94" x2="363.5" y2="49.16" stroke="#41475a" stroke-width="0.7" />
<line x1="362.6" y1="43.94" x2="364.4" y2="43.94" stroke="#41475a" stroke-width="0.7" />
<line x1="362.6" y1="49.16" x2="364.4" y2="49.16" stroke="#41475a" stroke-width="0.7" />
<circle cx="363.5" cy="46.55" r="1.4" fill="#41475a"/>
<line x1="297.7" y1="60.41" x2="297.7" y2="63.41" stroke="#5ba6e1" stroke-width="0.7" />
<line x1="296.9" y1="60.41" x2="298.5" y2="60.41" stroke="#5ba6e1" stroke-width="0.7" />
<line x1="296.9" y1="63.41" x2="298.5" y2="63.41" stroke="#5ba6e1" stroke-width="0.7" />
<circle cx="297.7" cy="61.91" r="1.35" fill="#5ba6e1"/>
<rect x="377.4" y="60.89" width="2.2" height="4.13" fill="#c9157c"/>
<text x="308" y="54.24" font-size="4.37" fill="#333" text-anchor="middle">ns</text>
<circle cx="321.03" cy="52" r="0.7" fill="#222"/>
<circle cx="322.58" cy="52" r="0.7" fill="#222"/>
<circle cx="333.38" cy="48" r="0.7" fill="#222"/>
<circle cx="334.93" cy="48" r="0.7" fill="#222"/>
<circle cx="336.48" cy="48" r="0.7" fill="#222"/>
<circle cx="338.02" cy="48" r="0.7" fill="#222"/>
<circle cx="347.18" cy="44" r="0.7" fill="#222"/>
<circle cx="348.73" cy="44" r="0.7" fill="#222"/>
<circle cx="350.28" cy="44" r="0.7" fill="#222"/>
<circle cx="351.82" cy="44" r="0.7" fill="#222"/>
<circle cx="361.18" cy="41.4" r="0.7" fill="#222"/>
<circle cx="362.73" cy="41.4" r="0.7" fill="#222"/>
<circle cx="364.28" cy="41.4" r="0.7" fill="#222"/>
<circle cx="365.82" cy="41.4" r="0.7" fill="#222"/>
<text x="303.7" y="27.7" font-size="7.6" fill="#111" stroke="#111" stroke-width="0.12" textLength="67.4" lengthAdjust="spacingAndGlyphs">CD38<tspan font-size="4.59" dy="-2.81">+</tspan><tspan dy="2.81">​</tspan>CD4<tspan font-size="4.59" dy="-2.81">+</tspan><tspan dy="2.81">​</tspan> T-cells</text>
<text transform="translate(277.2,57.6) rotate(-90)" font-size="7.4" fill="#111" stroke="#111" stroke-width="0.2" text-anchor="middle" textLength="58.5" lengthAdjust="spacingAndGlyphs">CD38<tspan font-size="3.84" dy="-2.36">+</tspan><tspan dy="2.36">​</tspan>CD4<tspan font-size="3.84" dy="-2.36">+</tspan><tspan dy="2.36">​</tspan> T cells (%)</text>
<text x="310.6" y="106.5" font-size="7.1" fill="#111" stroke="#111" stroke-width="0.2" textLength="53.4" lengthAdjust="spacingAndGlyphs">Talquetamab (μg/mL)</text>
<text transform="translate(299.2,90.1) rotate(-90)" font-size="5.8" fill="#222" stroke="#222" stroke-width="0.08" text-anchor="end" textLength="35.5" lengthAdjust="spacingAndGlyphs">Solvent control</text>
<text transform="translate(380.4,90.1) rotate(-90)" font-size="5.8" fill="#222" stroke="#222" stroke-width="0.08" text-anchor="end" textLength="40.5" lengthAdjust="spacingAndGlyphs">Dara (0.1 μg/mL)</text>
<line x1="426.2" y1="32.8" x2="426.2" y2="83.3" stroke="#111" stroke-width="1.1" />
<line x1="423.4" y1="77.9" x2="426.2" y2="77.9" stroke="#111" stroke-width="0.8" />
<text x="420.8" y="79.9" font-size="5.6" fill="#222" stroke="#222" stroke-width="0.15" text-anchor="end">0</text>
<line x1="423.4" y1="67.45" x2="426.2" y2="67.45" stroke="#111" stroke-width="0.8" />
<text x="420.8" y="69.45" font-size="5.6" fill="#222" stroke="#222" stroke-width="0.15" text-anchor="end">10</text>
<line x1="423.4" y1="57" x2="426.2" y2="57" stroke="#111" stroke-width="0.8" />
<text x="420.8" y="59" font-size="5.6" fill="#222" stroke="#222" stroke-width="0.15" text-anchor="end">20</text>
<line x1="423.4" y1="46.55" x2="426.2" y2="46.55" stroke="#111" stroke-width="0.8" />
<text x="420.8" y="48.55" font-size="5.6" fill="#222" stroke="#222" stroke-width="0.15" text-anchor="end">30</text>
<line x1="423.4" y1="36.1" x2="426.2" y2="36.1" stroke="#111" stroke-width="0.8" />
<text x="420.8" y="38.1" font-size="5.6" fill="#222" stroke="#222" stroke-width="0.15" text-anchor="end">40</text>
<line x1="425.65" y1="83.3" x2="430.4" y2="83.3" stroke="#111" stroke-width="1.1" />
<line x1="428.2" y1="83.3" x2="428.2" y2="85.5" stroke="#333" stroke-width="0.7" />
<line x1="430.4" y1="80.7" x2="430.4" y2="85.7" stroke="#222" stroke-width="0.8" />
<line x1="432.7" y1="80.5" x2="432.7" y2="86.1" stroke="#111" stroke-width="0.8" />
<line x1="432.7" y1="83.3" x2="503.5" y2="83.3" stroke="#111" stroke-width="1.1" />
<line x1="503.5" y1="80.5" x2="503.5" y2="86.1" stroke="#111" stroke-width="0.8" />
<line x1="507.2" y1="80.5" x2="507.2" y2="86.1" stroke="#111" stroke-width="0.8" />
<line x1="507.2" y1="83.3" x2="511.2" y2="83.3" stroke="#111" stroke-width="1.1" />
<line x1="509.2" y1="83.3" x2="509.2" y2="85.1" stroke="#555" stroke-width="0.6" />
<line x1="436.2" y1="83.3" x2="436.2" y2="85.7" stroke="#111" stroke-width="0.8" />
<text x="438.2" y="94.7" font-size="5.8" fill="#222" stroke="#222" stroke-width="0.08" text-anchor="middle">0.001</text>
<line x1="455.8" y1="83.3" x2="455.8" y2="85.7" stroke="#111" stroke-width="0.8" />
<line x1="449.92" y1="83.3" x2="449.92" y2="84.5" stroke="#333" stroke-width="0.6" />
<text x="455.6" y="94.7" font-size="5.8" fill="#222" stroke="#222" stroke-width="0.08" text-anchor="middle">0.01</text>
<line x1="475.4" y1="83.3" x2="475.4" y2="85.7" stroke="#111" stroke-width="0.8" />
<line x1="469.52" y1="83.3" x2="469.52" y2="84.5" stroke="#333" stroke-width="0.6" />
<text x="475.2" y="94.7" font-size="5.8" fill="#222" stroke="#222" stroke-width="0.08" text-anchor="middle">0.1</text>
<line x1="495" y1="83.3" x2="495" y2="85.7" stroke="#111" stroke-width="0.8" />
<line x1="489.12" y1="83.3" x2="489.12" y2="84.5" stroke="#333" stroke-width="0.6" />
<text x="494.8" y="94.7" font-size="5.8" fill="#222" stroke="#222" stroke-width="0.08" text-anchor="middle">1</text>
<line x1="428.4" y1="77.5" x2="510.7" y2="77.5" stroke="#111" stroke-width="1.0" stroke-dasharray="1.0 1.3"/>
<path d="M432.5,69.23 C433.55,69 435.43,68.55 438.8,67.87 C442.17,67.19 448.1,66.58 452.7,65.15 C457.3,63.72 461.82,61.23 466.4,59.3 C470.98,57.37 475.6,55.15 480.2,53.55 C484.8,51.95 491.7,50.33 494,49.69" fill="none" stroke="#41475a" stroke-width="1.1" />
<path d="M432.5,71.63 C433.55,71.65 435.43,71.72 438.8,71.73 C442.17,71.75 448.1,71.89 452.7,71.73 C457.3,71.58 461.82,71.23 466.4,70.79 C470.98,70.36 475.6,69.54 480.2,69.12 C484.8,68.7 491.7,68.43 494,68.29" fill="none" stroke="#5ba6e1" stroke-width="1.1" />
<line x1="438.8" y1="71.21" x2="438.8" y2="72.26" stroke="#5ba6e1" stroke-width="0.7" />
<line x1="437.9" y1="71.21" x2="439.7" y2="71.21" stroke="#5ba6e1" stroke-width="0.7" />
<line x1="437.9" y1="72.26" x2="439.7" y2="72.26" stroke="#5ba6e1" stroke-width="0.7" />
<circle cx="438.8" cy="71.73" r="1.35" fill="#5ba6e1"/>
<line x1="452.7" y1="71.21" x2="452.7" y2="72.26" stroke="#5ba6e1" stroke-width="0.7" />
<line x1="451.8" y1="71.21" x2="453.6" y2="71.21" stroke="#5ba6e1" stroke-width="0.7" />
<line x1="451.8" y1="72.26" x2="453.6" y2="72.26" stroke="#5ba6e1" stroke-width="0.7" />
<circle cx="452.7" cy="71.73" r="1.35" fill="#5ba6e1"/>
<line x1="466.4" y1="70.27" x2="466.4" y2="71.32" stroke="#5ba6e1" stroke-width="0.7" />
<line x1="465.5" y1="70.27" x2="467.3" y2="70.27" stroke="#5ba6e1" stroke-width="0.7" />
<line x1="465.5" y1="71.32" x2="467.3" y2="71.32" stroke="#5ba6e1" stroke-width="0.7" />
<circle cx="466.4" cy="70.79" r="1.35" fill="#5ba6e1"/>
<line x1="480.2" y1="68.6" x2="480.2" y2="69.64" stroke="#5ba6e1" stroke-width="0.7" />
<line x1="479.3" y1="68.6" x2="481.1" y2="68.6" stroke="#5ba6e1" stroke-width="0.7" />
<line x1="479.3" y1="69.64" x2="481.1" y2="69.64" stroke="#5ba6e1" stroke-width="0.7" />
<circle cx="480.2" cy="69.12" r="1.35" fill="#5ba6e1"/>
<line x1="494" y1="67.76" x2="494" y2="68.81" stroke="#5ba6e1" stroke-width="0.7" />
<line x1="493.1" y1="67.76" x2="494.9" y2="67.76" stroke="#5ba6e1" stroke-width="0.7" />
<line x1="493.1" y1="68.81" x2="494.9" y2="68.81" stroke="#5ba6e1" stroke-width="0.7" />
<circle cx="494" cy="68.29" r="1.35" fill="#5ba6e1"/>
<line x1="438.8" y1="65.78" x2="438.8" y2="69.96" stroke="#41475a" stroke-width="0.7" />
<line x1="437.9" y1="65.78" x2="439.7" y2="65.78" stroke="#41475a" stroke-width="0.7" />
<line x1="437.9" y1="69.96" x2="439.7" y2="69.96" stroke="#41475a" stroke-width="0.7" />
<circle cx="438.8" cy="67.87" r="1.4" fill="#41475a"/>
<line x1="452.7" y1="63.06" x2="452.7" y2="67.24" stroke="#41475a" stroke-width="0.7" />
<line x1="451.8" y1="63.06" x2="453.6" y2="63.06" stroke="#41475a" stroke-width="0.7" />
<line x1="451.8" y1="67.24" x2="453.6" y2="67.24" stroke="#41475a" stroke-width="0.7" />
<circle cx="452.7" cy="65.15" r="1.4" fill="#41475a"/>
<line x1="466.4" y1="56.69" x2="466.4" y2="61.91" stroke="#41475a" stroke-width="0.7" />
<line x1="465.5" y1="56.69" x2="467.3" y2="56.69" stroke="#41475a" stroke-width="0.7" />
<line x1="465.5" y1="61.91" x2="467.3" y2="61.91" stroke="#41475a" stroke-width="0.7" />
<circle cx="466.4" cy="59.3" r="1.4" fill="#41475a"/>
<line x1="480.2" y1="50.94" x2="480.2" y2="56.16" stroke="#41475a" stroke-width="0.7" />
<line x1="479.3" y1="50.94" x2="481.1" y2="50.94" stroke="#41475a" stroke-width="0.7" />
<line x1="479.3" y1="56.16" x2="481.1" y2="56.16" stroke="#41475a" stroke-width="0.7" />
<circle cx="480.2" cy="53.55" r="1.4" fill="#41475a"/>
<line x1="494" y1="47.07" x2="494" y2="52.3" stroke="#41475a" stroke-width="0.7" />
<line x1="493.1" y1="47.07" x2="494.9" y2="47.07" stroke="#41475a" stroke-width="0.7" />
<line x1="493.1" y1="52.3" x2="494.9" y2="52.3" stroke="#41475a" stroke-width="0.7" />
<circle cx="494" cy="49.69" r="1.4" fill="#41475a"/>
<line x1="428.4" y1="68.14" x2="428.4" y2="71.14" stroke="#5ba6e1" stroke-width="0.7" />
<line x1="427.6" y1="68.14" x2="429.2" y2="68.14" stroke="#5ba6e1" stroke-width="0.7" />
<line x1="427.6" y1="71.14" x2="429.2" y2="71.14" stroke="#5ba6e1" stroke-width="0.7" />
<circle cx="428.4" cy="69.64" r="1.35" fill="#5ba6e1"/>
<rect x="508.1" y="70.92" width="2.2" height="2.25" fill="#c9157c"/>
<text x="438.8" y="63.94" font-size="4.37" fill="#333" text-anchor="middle">ns</text>
<circle cx="451.15" cy="60.1" r="0.7" fill="#222"/>
<circle cx="452.7" cy="60.1" r="0.7" fill="#222"/>
<circle cx="454.25" cy="60.1" r="0.7" fill="#222"/>
<circle cx="464.07" cy="53.5" r="0.7" fill="#222"/>
<circle cx="465.62" cy="53.5" r="0.7" fill="#222"/>
<circle cx="467.18" cy="53.5" r="0.7" fill="#222"/>
<circle cx="468.72" cy="53.5" r="0.7" fill="#222"/>
<circle cx="477.88" cy="47.1" r="0.7" fill="#222"/>
<circle cx="479.43" cy="47.1" r="0.7" fill="#222"/>
<circle cx="480.98" cy="47.1" r="0.7" fill="#222"/>
<circle cx="482.52" cy="47.1" r="0.7" fill="#222"/>
<circle cx="491.68" cy="43.2" r="0.7" fill="#222"/>
<circle cx="493.23" cy="43.2" r="0.7" fill="#222"/>
<circle cx="494.78" cy="43.2" r="0.7" fill="#222"/>
<circle cx="496.32" cy="43.2" r="0.7" fill="#222"/>
<text x="434" y="27.7" font-size="7.6" fill="#111" stroke="#111" stroke-width="0.12" textLength="68" lengthAdjust="spacingAndGlyphs">CD38<tspan font-size="4.59" dy="-2.81">+</tspan><tspan dy="2.81">​</tspan>CD8<tspan font-size="4.59" dy="-2.81">+</tspan><tspan dy="2.81">​</tspan> T-cells</text>
<text transform="translate(407.4,57.6) rotate(-90)" font-size="7.4" fill="#111" stroke="#111" stroke-width="0.2" text-anchor="middle" textLength="58.5" lengthAdjust="spacingAndGlyphs">CD38<tspan font-size="3.84" dy="-2.36">+</tspan><tspan dy="2.36">​</tspan>CD8+ T-cells (%)</text>
<text x="441.3" y="106.5" font-size="7.1" fill="#111" stroke="#111" stroke-width="0.2" textLength="53.4" lengthAdjust="spacingAndGlyphs">Talquetamab (μg/mL)</text>
<text transform="translate(429.9,90.1) rotate(-90)" font-size="5.8" fill="#222" stroke="#222" stroke-width="0.08" text-anchor="end" textLength="35.5" lengthAdjust="spacingAndGlyphs">Solvent control</text>
<text transform="translate(511.1,90.1) rotate(-90)" font-size="5.8" fill="#222" stroke="#222" stroke-width="0.08" text-anchor="end" textLength="40.5" lengthAdjust="spacingAndGlyphs">Dara (0.1 μg/mL)</text>
<line x1="34" y1="173" x2="34" y2="222.8" stroke="#111" stroke-width="1.1" />
<line x1="31.2" y1="217.7" x2="34" y2="217.7" stroke="#111" stroke-width="0.8" />
<text x="28.6" y="219.7" font-size="5.6" fill="#222" stroke="#222" stroke-width="0.15" text-anchor="end">-10</text>
<line x1="31.2" y1="207.2" x2="34" y2="207.2" stroke="#111" stroke-width="0.8" />
<text x="28.6" y="209.2" font-size="5.6" fill="#222" stroke="#222" stroke-width="0.15" text-anchor="end">0</text>
<line x1="31.2" y1="196.7" x2="34" y2="196.7" stroke="#111" stroke-width="0.8" />
<text x="28.6" y="198.7" font-size="5.6" fill="#222" stroke="#222" stroke-width="0.15" text-anchor="end">10</text>
<line x1="31.2" y1="186.2" x2="34" y2="186.2" stroke="#111" stroke-width="0.8" />
<text x="28.6" y="188.2" font-size="5.6" fill="#222" stroke="#222" stroke-width="0.15" text-anchor="end">20</text>
<line x1="31.2" y1="175.7" x2="34" y2="175.7" stroke="#111" stroke-width="0.8" />
<text x="28.6" y="177.7" font-size="5.6" fill="#222" stroke="#222" stroke-width="0.15" text-anchor="end">30</text>
<line x1="33.45" y1="222.8" x2="38.2" y2="222.8" stroke="#111" stroke-width="1.1" />
<line x1="36" y1="222.8" x2="36" y2="225" stroke="#333" stroke-width="0.7" />
<line x1="38.2" y1="220.2" x2="38.2" y2="225.2" stroke="#222" stroke-width="0.8" />
<line x1="40.5" y1="220" x2="40.5" y2="225.6" stroke="#111" stroke-width="0.8" />
<line x1="40.5" y1="222.8" x2="111.3" y2="222.8" stroke="#111" stroke-width="1.1" />
<line x1="111.3" y1="220" x2="111.3" y2="225.6" stroke="#111" stroke-width="0.8" />
<line x1="115" y1="220" x2="115" y2="225.6" stroke="#111" stroke-width="0.8" />
<line x1="115" y1="222.8" x2="119" y2="222.8" stroke="#111" stroke-width="1.1" />
<line x1="117" y1="222.8" x2="117" y2="224.6" stroke="#555" stroke-width="0.6" />
<line x1="43.8" y1="222.8" x2="43.8" y2="225.2" stroke="#111" stroke-width="0.8" />
<text x="45.8" y="234.2" font-size="5.8" fill="#222" stroke="#222" stroke-width="0.08" text-anchor="middle">0.001</text>
<line x1="63.4" y1="222.8" x2="63.4" y2="225.2" stroke="#111" stroke-width="0.8" />
<line x1="57.52" y1="222.8" x2="57.52" y2="224" stroke="#333" stroke-width="0.6" />
<text x="63.2" y="234.2" font-size="5.8" fill="#222" stroke="#222" stroke-width="0.08" text-anchor="middle">0.01</text>
<line x1="83" y1="222.8" x2="83" y2="225.2" stroke="#111" stroke-width="0.8" />
<line x1="77.12" y1="222.8" x2="77.12" y2="224" stroke="#333" stroke-width="0.6" />
<text x="82.8" y="234.2" font-size="5.8" fill="#222" stroke="#222" stroke-width="0.08" text-anchor="middle">0.1</text>
<line x1="102.6" y1="222.8" x2="102.6" y2="225.2" stroke="#111" stroke-width="0.8" />
<line x1="96.72" y1="222.8" x2="96.72" y2="224" stroke="#333" stroke-width="0.6" />
<text x="102.4" y="234.2" font-size="5.8" fill="#222" stroke="#222" stroke-width="0.08" text-anchor="middle">1</text>
<line x1="36.2" y1="207.5" x2="118.5" y2="207.5" stroke="#111" stroke-width="1.0" stroke-dasharray="1.0 1.3"/>
<path d="M40.4,208.24 L41.93,208.23 L43.46,208.22 L45,208.2 L46.53,208.17 L48.06,208.13 L49.59,208.07 L51.13,207.97 L52.66,207.81 L54.19,207.59 L55.72,207.25 L57.26,206.75 L58.79,206.04 L60.32,205.08 L61.86,203.84 L63.39,202.36 L64.92,200.72 L66.45,199.08 L67.98,197.57 L69.52,196.31 L71.05,195.32 L72.58,194.59 L74.12,194.07 L75.65,193.72 L77.18,193.48 L78.71,193.32 L80.25,193.22 L81.78,193.15 L83.31,193.11 L84.84,193.08 L86.38,193.06 L87.91,193.05 L89.44,193.04 L90.97,193.03 L92.5,193.03 L94.04,193.03 L95.57,193.03 L97.1,193.03 L98.63,193.03 L100.17,193.03 L101.7,193.03" fill="none" stroke="#41475a" stroke-width="1.1" />
<path d="M40.4,208.15 L41.93,208.12 L43.46,208.09 L45,208.04 L46.53,207.98 L48.06,207.91 L49.59,207.81 L51.13,207.69 L52.66,207.53 L54.19,207.34 L55.72,207.09 L57.26,206.79 L58.79,206.42 L60.32,205.98 L61.86,205.46 L63.39,204.85 L64.92,204.15 L66.45,203.39 L67.98,202.56 L69.52,201.7 L71.05,200.83 L72.58,199.98 L74.12,199.17 L75.65,198.43 L77.18,197.77 L78.71,197.19 L80.25,196.7 L81.78,196.28 L83.31,195.94 L84.84,195.66 L86.38,195.44 L87.91,195.26 L89.44,195.11 L90.97,195 L92.5,194.91 L94.04,194.84 L95.57,194.79 L97.1,194.75 L98.63,194.71 L100.17,194.69 L101.7,194.67" fill="none" stroke="#5ba6e1" stroke-width="1.1" />
<line x1="45.7" y1="204.57" x2="45.7" y2="212.97" stroke="#5ba6e1" stroke-width="0.7" />
<line x1="44.8" y1="204.57" x2="46.6" y2="204.57" stroke="#5ba6e1" stroke-width="0.7" />
<line x1="44.8" y1="212.97" x2="46.6" y2="212.97" stroke="#5ba6e1" stroke-width="0.7" />
<circle cx="45.7" cy="208.77" r="1.35" fill="#5ba6e1"/>
<line x1="59.8" y1="200.38" x2="59.8" y2="208.77" stroke="#5ba6e1" stroke-width="0.7" />
<line x1="58.9" y1="200.38" x2="60.7" y2="200.38" stroke="#5ba6e1" stroke-width="0.7" />
<line x1="58.9" y1="208.77" x2="60.7" y2="208.77" stroke="#5ba6e1" stroke-width="0.7" />
<circle cx="59.8" cy="204.57" r="1.35" fill="#5ba6e1"/>
<line x1="73.8" y1="190.92" x2="73.8" y2="207.72" stroke="#5ba6e1" stroke-width="0.7" />
<line x1="72.9" y1="190.92" x2="74.7" y2="190.92" stroke="#5ba6e1" stroke-width="0.7" />
<line x1="72.9" y1="207.72" x2="74.7" y2="207.72" stroke="#5ba6e1" stroke-width="0.7" />
<circle cx="73.8" cy="199.32" r="1.35" fill="#5ba6e1"/>
<line x1="88" y1="190.08" x2="88" y2="203.73" stroke="#5ba6e1" stroke-width="0.7" />
<line x1="87.1" y1="190.08" x2="88.9" y2="190.08" stroke="#5ba6e1" stroke-width="0.7" />
<line x1="87.1" y1="203.73" x2="88.9" y2="203.73" stroke="#5ba6e1" stroke-width="0.7" />
<circle cx="88" cy="196.91" r="1.35" fill="#5ba6e1"/>
<line x1="101.7" y1="189.98" x2="101.7" y2="200.48" stroke="#5ba6e1" stroke-width="0.7" />
<line x1="100.8" y1="189.98" x2="102.6" y2="189.98" stroke="#5ba6e1" stroke-width="0.7" />
<line x1="100.8" y1="200.48" x2="102.6" y2="200.48" stroke="#5ba6e1" stroke-width="0.7" />
<circle cx="101.7" cy="195.23" r="1.35" fill="#5ba6e1"/>
<line x1="45.7" y1="205.62" x2="45.7" y2="208.77" stroke="#41475a" stroke-width="0.7" />
<line x1="44.8" y1="205.62" x2="46.6" y2="205.62" stroke="#41475a" stroke-width="0.7" />
<line x1="44.8" y1="208.77" x2="46.6" y2="208.77" stroke="#41475a" stroke-width="0.7" />
<circle cx="45.7" cy="207.2" r="1.4" fill="#41475a"/>
<line x1="59.8" y1="203.84" x2="59.8" y2="208.04" stroke="#41475a" stroke-width="0.7" />
<line x1="58.9" y1="203.84" x2="60.7" y2="203.84" stroke="#41475a" stroke-width="0.7" />
<line x1="58.9" y1="208.04" x2="60.7" y2="208.04" stroke="#41475a" stroke-width="0.7" />
<circle cx="59.8" cy="205.94" r="1.4" fill="#41475a"/>
<line x1="73.8" y1="191.34" x2="73.8" y2="198.69" stroke="#41475a" stroke-width="0.7" />
<line x1="72.9" y1="191.34" x2="74.7" y2="191.34" stroke="#41475a" stroke-width="0.7" />
<line x1="72.9" y1="198.69" x2="74.7" y2="198.69" stroke="#41475a" stroke-width="0.7" />
<circle cx="73.8" cy="195.02" r="1.4" fill="#41475a"/>
<line x1="88" y1="188.51" x2="88" y2="197.96" stroke="#41475a" stroke-width="0.7" />
<line x1="87.1" y1="188.51" x2="88.9" y2="188.51" stroke="#41475a" stroke-width="0.7" />
<line x1="87.1" y1="197.96" x2="88.9" y2="197.96" stroke="#41475a" stroke-width="0.7" />
<circle cx="88" cy="193.23" r="1.4" fill="#41475a"/>
<line x1="101.7" y1="189.88" x2="101.7" y2="197.22" stroke="#41475a" stroke-width="0.7" />
<line x1="100.8" y1="189.88" x2="102.6" y2="189.88" stroke="#41475a" stroke-width="0.7" />
<line x1="100.8" y1="197.22" x2="102.6" y2="197.22" stroke="#41475a" stroke-width="0.7" />
<circle cx="101.7" cy="193.55" r="1.4" fill="#41475a"/>
<line x1="36.2" y1="205.7" x2="36.2" y2="208.7" stroke="#5ba6e1" stroke-width="0.7" />
<line x1="35.4" y1="205.7" x2="37" y2="205.7" stroke="#5ba6e1" stroke-width="0.7" />
<line x1="35.4" y1="208.7" x2="37" y2="208.7" stroke="#5ba6e1" stroke-width="0.7" />
<circle cx="36.2" cy="207.2" r="1.35" fill="#5ba6e1"/>
<line x1="117" y1="206.88" x2="117" y2="213.81" stroke="#c9157c" stroke-width="0.8" />
<line x1="116" y1="206.88" x2="118" y2="206.88" stroke="#c9157c" stroke-width="0.8" />
<line x1="116" y1="213.81" x2="118" y2="213.81" stroke="#c9157c" stroke-width="0.8" />
<circle cx="117" cy="210.35" r="1.3" fill="#c9157c"/>
<text x="45.7" y="204.44" font-size="4.37" fill="#333" text-anchor="middle">ns</text>
<text x="59.8" y="196.44" font-size="4.37" fill="#333" text-anchor="middle">ns</text>
<text x="73.8" y="189.64" font-size="4.37" fill="#333" text-anchor="middle">ns</text>
<text x="88" y="186.54" font-size="4.37" fill="#333" text-anchor="middle">ns</text>
<text x="101.7" y="186.54" font-size="4.37" fill="#333" text-anchor="middle">ns</text>
<circle cx="40" cy="176.8" r="1.3" fill="#41475a"/>
<circle cx="40" cy="184" r="1.3" fill="#5ba6e1"/>
<text x="43.8" y="178.4" font-size="4.9" fill="#222" stroke="#222" stroke-width="0.1" textLength="16.2" lengthAdjust="spacingAndGlyphs">No Dara</text>
<text x="43.8" y="185.6" font-size="4.9" fill="#222" stroke="#222" stroke-width="0.1" textLength="13.18" lengthAdjust="spacingAndGlyphs">+ Dara</text>
<text x="60.1" y="167.1" font-size="7.6" fill="#111" stroke="#111" stroke-width="0.12" textLength="33.5" lengthAdjust="spacingAndGlyphs">T-cell lysis</text>
<text transform="translate(14.5,197.7) rotate(-90)" font-size="7.4" fill="#111" stroke="#111" stroke-width="0.2" text-anchor="middle" textLength="22.6" lengthAdjust="spacingAndGlyphs">Lysis (%)</text>
<text x="49" y="245.4" font-size="7.1" fill="#111" stroke="#111" stroke-width="0.2" textLength="52.9" lengthAdjust="spacingAndGlyphs">Talquetamab (μg/mL)</text>
<text transform="translate(37.7,229.6) rotate(-90)" font-size="5.8" fill="#222" stroke="#222" stroke-width="0.08" text-anchor="end" textLength="35.5" lengthAdjust="spacingAndGlyphs">Solvent control</text>
<text transform="translate(118.9,229.6) rotate(-90)" font-size="5.8" fill="#222" stroke="#222" stroke-width="0.08" text-anchor="end" textLength="40.5" lengthAdjust="spacingAndGlyphs">Dara (0.1 μg/mL)</text>
<line x1="164.4" y1="175.2" x2="164.4" y2="222.9" stroke="#111" stroke-width="1.1" />
<line x1="161.6" y1="216" x2="164.4" y2="216" stroke="#111" stroke-width="0.8" />
<text x="159" y="218" font-size="5.6" fill="#222" stroke="#222" stroke-width="0.15" text-anchor="end">0</text>
<line x1="161.6" y1="199.1" x2="164.4" y2="199.1" stroke="#111" stroke-width="0.8" />
<text x="159" y="201.1" font-size="5.6" fill="#222" stroke="#222" stroke-width="0.15" text-anchor="end">25</text>
<line x1="161.6" y1="182.2" x2="164.4" y2="182.2" stroke="#111" stroke-width="0.8" />
<text x="159" y="184.2" font-size="5.6" fill="#222" stroke="#222" stroke-width="0.15" text-anchor="end">50</text>
<line x1="163.85" y1="222.9" x2="168.6" y2="222.9" stroke="#111" stroke-width="1.1" />
<line x1="166.4" y1="222.9" x2="166.4" y2="225.1" stroke="#333" stroke-width="0.7" />
<line x1="168.6" y1="220.3" x2="168.6" y2="225.3" stroke="#222" stroke-width="0.8" />
<line x1="170.9" y1="220.1" x2="170.9" y2="225.7" stroke="#111" stroke-width="0.8" />
<line x1="170.9" y1="222.9" x2="241.7" y2="222.9" stroke="#111" stroke-width="1.1" />
<line x1="241.7" y1="220.1" x2="241.7" y2="225.7" stroke="#111" stroke-width="0.8" />
<line x1="245.4" y1="220.1" x2="245.4" y2="225.7" stroke="#111" stroke-width="0.8" />
<line x1="245.4" y1="222.9" x2="249.4" y2="222.9" stroke="#111" stroke-width="1.1" />
<line x1="247.4" y1="222.9" x2="247.4" y2="224.7" stroke="#555" stroke-width="0.6" />
<line x1="174.4" y1="222.9" x2="174.4" y2="225.3" stroke="#111" stroke-width="0.8" />
<text x="176.4" y="234.3" font-size="5.8" fill="#222" stroke="#222" stroke-width="0.08" text-anchor="middle">0.001</text>
<line x1="194" y1="222.9" x2="194" y2="225.3" stroke="#111" stroke-width="0.8" />
<line x1="188.12" y1="222.9" x2="188.12" y2="224.1" stroke="#333" stroke-width="0.6" />
<text x="193.8" y="234.3" font-size="5.8" fill="#222" stroke="#222" stroke-width="0.08" text-anchor="middle">0.01</text>
<line x1="213.6" y1="222.9" x2="213.6" y2="225.3" stroke="#111" stroke-width="0.8" />
<line x1="207.72" y1="222.9" x2="207.72" y2="224.1" stroke="#333" stroke-width="0.6" />
<text x="213.4" y="234.3" font-size="5.8" fill="#222" stroke="#222" stroke-width="0.08" text-anchor="middle">0.1</text>
<line x1="233.2" y1="222.9" x2="233.2" y2="225.3" stroke="#111" stroke-width="0.8" />
<line x1="227.32" y1="222.9" x2="227.32" y2="224.1" stroke="#333" stroke-width="0.6" />
<text x="233" y="234.3" font-size="5.8" fill="#222" stroke="#222" stroke-width="0.08" text-anchor="middle">1</text>
<line x1="166.6" y1="216.5" x2="248.9" y2="216.5" stroke="#111" stroke-width="1.0" stroke-dasharray="1.0 1.3"/>
<path d="M172,207.17 L173.51,207.05 L175.03,206.92 L176.54,206.78 L178.05,206.6 L179.56,206.41 L181.07,206.19 L182.59,205.94 L184.1,205.66 L185.61,205.34 L187.12,204.98 L188.64,204.58 L190.15,204.14 L191.66,203.66 L193.18,203.13 L194.69,202.56 L196.2,201.94 L197.71,201.29 L199.22,200.6 L200.74,199.88 L202.25,199.13 L203.76,198.37 L205.28,197.61 L206.79,196.84 L208.3,196.09 L209.81,195.35 L211.32,194.64 L212.84,193.97 L214.35,193.33 L215.86,192.73 L217.38,192.17 L218.89,191.66 L220.4,191.19 L221.91,190.76 L223.43,190.38 L224.94,190.04 L226.45,189.73 L227.96,189.46 L229.47,189.22 L230.99,189.01 L232.5,188.83" fill="none" stroke="#41475a" stroke-width="1.1" />
<path d="M172,207.23 L173.51,207.15 L175.03,207.05 L176.54,206.95 L178.05,206.83 L179.56,206.7 L181.07,206.55 L182.59,206.39 L184.1,206.21 L185.61,206.01 L187.12,205.79 L188.64,205.55 L190.15,205.28 L191.66,205 L193.18,204.68 L194.69,204.35 L196.2,203.99 L197.71,203.6 L199.22,203.19 L200.74,202.76 L202.25,202.31 L203.76,201.84 L205.28,201.35 L206.79,200.86 L208.3,200.35 L209.81,199.84 L211.32,199.33 L212.84,198.82 L214.35,198.32 L215.86,197.83 L217.38,197.36 L218.89,196.9 L220.4,196.47 L221.91,196.05 L223.43,195.66 L224.94,195.29 L226.45,194.95 L227.96,194.63 L229.47,194.34 L230.99,194.07 L232.5,193.82" fill="none" stroke="#5ba6e1" stroke-width="1.1" />
<line x1="166.5" y1="208.23" x2="176.9" y2="206.2" stroke="#5ba6e1" stroke-width="0.9" stroke-dasharray="2 1.2"/>
<line x1="176.9" y1="204.85" x2="176.9" y2="206.87" stroke="#5ba6e1" stroke-width="0.7" />
<line x1="176" y1="204.85" x2="177.8" y2="204.85" stroke="#5ba6e1" stroke-width="0.7" />
<line x1="176" y1="206.87" x2="177.8" y2="206.87" stroke="#5ba6e1" stroke-width="0.7" />
<circle cx="176.9" cy="205.86" r="1.35" fill="#5ba6e1"/>
<line x1="190.6" y1="203.02" x2="190.6" y2="205.05" stroke="#5ba6e1" stroke-width="0.7" />
<line x1="189.7" y1="203.02" x2="191.5" y2="203.02" stroke="#5ba6e1" stroke-width="0.7" />
<line x1="189.7" y1="205.05" x2="191.5" y2="205.05" stroke="#5ba6e1" stroke-width="0.7" />
<circle cx="190.6" cy="204.03" r="1.35" fill="#5ba6e1"/>
<line x1="204.6" y1="199.24" x2="204.6" y2="203.29" stroke="#5ba6e1" stroke-width="0.7" />
<line x1="203.7" y1="199.24" x2="205.5" y2="199.24" stroke="#5ba6e1" stroke-width="0.7" />
<line x1="203.7" y1="203.29" x2="205.5" y2="203.29" stroke="#5ba6e1" stroke-width="0.7" />
<circle cx="204.6" cy="201.26" r="1.35" fill="#5ba6e1"/>
<line x1="218.3" y1="195.04" x2="218.3" y2="200.45" stroke="#5ba6e1" stroke-width="0.7" />
<line x1="217.4" y1="195.04" x2="219.2" y2="195.04" stroke="#5ba6e1" stroke-width="0.7" />
<line x1="217.4" y1="200.45" x2="219.2" y2="200.45" stroke="#5ba6e1" stroke-width="0.7" />
<circle cx="218.3" cy="197.75" r="1.35" fill="#5ba6e1"/>
<line x1="232.5" y1="192.34" x2="232.5" y2="197.75" stroke="#5ba6e1" stroke-width="0.7" />
<line x1="231.6" y1="192.34" x2="233.4" y2="192.34" stroke="#5ba6e1" stroke-width="0.7" />
<line x1="231.6" y1="197.75" x2="233.4" y2="197.75" stroke="#5ba6e1" stroke-width="0.7" />
<circle cx="232.5" cy="195.04" r="1.35" fill="#5ba6e1"/>
<line x1="176.9" y1="204.85" x2="176.9" y2="206.87" stroke="#41475a" stroke-width="0.7" />
<line x1="176" y1="204.85" x2="177.8" y2="204.85" stroke="#41475a" stroke-width="0.7" />
<line x1="176" y1="206.87" x2="177.8" y2="206.87" stroke="#41475a" stroke-width="0.7" />
<circle cx="176.9" cy="205.86" r="1.4" fill="#41475a"/>
<line x1="190.6" y1="202.01" x2="190.6" y2="204.71" stroke="#41475a" stroke-width="0.7" />
<line x1="189.7" y1="202.01" x2="191.5" y2="202.01" stroke="#41475a" stroke-width="0.7" />
<line x1="189.7" y1="204.71" x2="191.5" y2="204.71" stroke="#41475a" stroke-width="0.7" />
<circle cx="190.6" cy="203.36" r="1.4" fill="#41475a"/>
<line x1="204.6" y1="195.04" x2="204.6" y2="200.45" stroke="#41475a" stroke-width="0.7" />
<line x1="203.7" y1="195.04" x2="205.5" y2="195.04" stroke="#41475a" stroke-width="0.7" />
<line x1="203.7" y1="200.45" x2="205.5" y2="200.45" stroke="#41475a" stroke-width="0.7" />
<circle cx="204.6" cy="197.75" r="1.4" fill="#41475a"/>
<line x1="218.3" y1="189.64" x2="218.3" y2="195.04" stroke="#41475a" stroke-width="0.7" />
<line x1="217.4" y1="189.64" x2="219.2" y2="189.64" stroke="#41475a" stroke-width="0.7" />
<line x1="217.4" y1="195.04" x2="219.2" y2="195.04" stroke="#41475a" stroke-width="0.7" />
<circle cx="218.3" cy="192.34" r="1.4" fill="#41475a"/>
<line x1="232.5" y1="186.93" x2="232.5" y2="192.34" stroke="#41475a" stroke-width="0.7" />
<line x1="231.6" y1="186.93" x2="233.4" y2="186.93" stroke="#41475a" stroke-width="0.7" />
<line x1="231.6" y1="192.34" x2="233.4" y2="192.34" stroke="#41475a" stroke-width="0.7" />
<circle cx="232.5" cy="189.64" r="1.4" fill="#41475a"/>
<line x1="166.6" y1="206.73" x2="166.6" y2="209.73" stroke="#5ba6e1" stroke-width="0.7" />
<line x1="165.8" y1="206.73" x2="167.4" y2="206.73" stroke="#5ba6e1" stroke-width="0.7" />
<line x1="165.8" y1="209.73" x2="167.4" y2="209.73" stroke="#5ba6e1" stroke-width="0.7" />
<circle cx="166.6" cy="208.23" r="1.35" fill="#5ba6e1"/>
<rect x="246.3" y="205.02" width="2.2" height="1.68" fill="#c9157c"/>
<text x="176.9" y="202.04" font-size="4.37" fill="#333" text-anchor="middle">ns</text>
<text x="190.6" y="200.34" font-size="4.37" fill="#333" text-anchor="middle">ns</text>
<circle cx="202.28" cy="192.8" r="0.7" fill="#222"/>
<circle cx="203.83" cy="192.8" r="0.7" fill="#222"/>
<circle cx="205.38" cy="192.8" r="0.7" fill="#222"/>
<circle cx="206.93" cy="192.8" r="0.7" fill="#222"/>
<circle cx="215.98" cy="187.1" r="0.7" fill="#222"/>
<circle cx="217.53" cy="187.1" r="0.7" fill="#222"/>
<circle cx="219.08" cy="187.1" r="0.7" fill="#222"/>
<circle cx="220.63" cy="187.1" r="0.7" fill="#222"/>
<circle cx="230.18" cy="183.7" r="0.7" fill="#222"/>
<circle cx="231.73" cy="183.7" r="0.7" fill="#222"/>
<circle cx="233.28" cy="183.7" r="0.7" fill="#222"/>
<circle cx="234.83" cy="183.7" r="0.7" fill="#222"/>
<text x="181.1" y="170.2" font-size="7.6" fill="#111" stroke="#111" stroke-width="0.12" textLength="51.2" lengthAdjust="spacingAndGlyphs">T-cell activation</text>
<text transform="translate(146.9,199) rotate(-90)" font-size="7.4" fill="#111" stroke="#111" stroke-width="0.2" text-anchor="middle" textLength="44" lengthAdjust="spacingAndGlyphs">CD25<tspan font-size="3.84" dy="-2.36">+</tspan><tspan dy="2.36">​</tspan> T-cells (%)</text>
<text x="180" y="245.4" font-size="7.1" fill="#111" stroke="#111" stroke-width="0.2" textLength="53" lengthAdjust="spacingAndGlyphs">Talquetamab (μg/mL)</text>
<text transform="translate(168.1,229.7) rotate(-90)" font-size="5.8" fill="#222" stroke="#222" stroke-width="0.08" text-anchor="end" textLength="35.5" lengthAdjust="spacingAndGlyphs">Solvent control</text>
<text transform="translate(249.3,229.7) rotate(-90)" font-size="5.8" fill="#222" stroke="#222" stroke-width="0.08" text-anchor="end" textLength="40.5" lengthAdjust="spacingAndGlyphs">Dara (0.1 μg/mL)</text>
<line x1="295.3" y1="175.5" x2="295.3" y2="222.7" stroke="#111" stroke-width="1.1" />
<line x1="292.5" y1="215.1" x2="295.3" y2="215.1" stroke="#111" stroke-width="0.8" />
<text x="289.9" y="217.1" font-size="5.6" fill="#222" stroke="#222" stroke-width="0.15" text-anchor="end">0</text>
<line x1="292.5" y1="199.6" x2="295.3" y2="199.6" stroke="#111" stroke-width="0.8" />
<text x="289.9" y="201.6" font-size="5.6" fill="#222" stroke="#222" stroke-width="0.15" text-anchor="end">10</text>
<line x1="292.5" y1="184.1" x2="295.3" y2="184.1" stroke="#111" stroke-width="0.8" />
<text x="289.9" y="186.1" font-size="5.6" fill="#222" stroke="#222" stroke-width="0.15" text-anchor="end">20</text>
<line x1="294.75" y1="222.7" x2="299.5" y2="222.7" stroke="#111" stroke-width="1.1" />
<line x1="297.3" y1="222.7" x2="297.3" y2="224.9" stroke="#333" stroke-width="0.7" />
<line x1="299.5" y1="220.1" x2="299.5" y2="225.1" stroke="#222" stroke-width="0.8" />
<line x1="301.8" y1="219.9" x2="301.8" y2="225.5" stroke="#111" stroke-width="0.8" />
<line x1="301.8" y1="222.7" x2="372.6" y2="222.7" stroke="#111" stroke-width="1.1" />
<line x1="372.6" y1="219.9" x2="372.6" y2="225.5" stroke="#111" stroke-width="0.8" />
<line x1="376.3" y1="219.9" x2="376.3" y2="225.5" stroke="#111" stroke-width="0.8" />
<line x1="376.3" y1="222.7" x2="380.3" y2="222.7" stroke="#111" stroke-width="1.1" />
<line x1="378.3" y1="222.7" x2="378.3" y2="224.5" stroke="#555" stroke-width="0.6" />
<line x1="305.3" y1="222.7" x2="305.3" y2="225.1" stroke="#111" stroke-width="0.8" />
<text x="307.3" y="234.1" font-size="5.8" fill="#222" stroke="#222" stroke-width="0.08" text-anchor="middle">0.001</text>
<line x1="324.9" y1="222.7" x2="324.9" y2="225.1" stroke="#111" stroke-width="0.8" />
<line x1="319.02" y1="222.7" x2="319.02" y2="223.9" stroke="#333" stroke-width="0.6" />
<text x="324.7" y="234.1" font-size="5.8" fill="#222" stroke="#222" stroke-width="0.08" text-anchor="middle">0.01</text>
<line x1="344.5" y1="222.7" x2="344.5" y2="225.1" stroke="#111" stroke-width="0.8" />
<line x1="338.62" y1="222.7" x2="338.62" y2="223.9" stroke="#333" stroke-width="0.6" />
<text x="344.3" y="234.1" font-size="5.8" fill="#222" stroke="#222" stroke-width="0.08" text-anchor="middle">0.1</text>
<line x1="364.1" y1="222.7" x2="364.1" y2="225.1" stroke="#111" stroke-width="0.8" />
<line x1="358.22" y1="222.7" x2="358.22" y2="223.9" stroke="#333" stroke-width="0.6" />
<text x="363.9" y="234.1" font-size="5.8" fill="#222" stroke="#222" stroke-width="0.08" text-anchor="middle">1</text>
<line x1="297.5" y1="215.5" x2="379.8" y2="215.5" stroke="#111" stroke-width="1.0" stroke-dasharray="1.0 1.3"/>
<path d="M302,198.79 L303.52,198.63 L305.05,198.46 L306.57,198.28 L308.1,198.1 L309.62,197.91 L311.15,197.71 L312.68,197.51 L314.2,197.31 L315.73,197.09 L317.25,196.88 L318.77,196.65 L320.3,196.43 L321.82,196.2 L323.35,195.97 L324.88,195.74 L326.4,195.51 L327.93,195.29 L329.45,195.06 L330.98,194.83 L332.5,194.61 L334.02,194.39 L335.55,194.18 L337.07,193.97 L338.6,193.77 L340.12,193.57 L341.65,193.38 L343.18,193.2 L344.7,193.02 L346.23,192.85 L347.75,192.69 L349.27,192.54 L350.8,192.39 L352.32,192.25 L353.85,192.12 L355.38,191.99 L356.9,191.88 L358.43,191.77 L359.95,191.66 L361.48,191.56 L363,191.47" fill="none" stroke="#41475a" stroke-width="1.1" />
<path d="M302,199.19 L303.52,199.15 L305.05,199.11 L306.57,199.06 L308.1,199.01 L309.62,198.95 L311.15,198.9 L312.68,198.83 L314.2,198.77 L315.73,198.7 L317.25,198.62 L318.77,198.54 L320.3,198.46 L321.82,198.38 L323.35,198.29 L324.88,198.2 L326.4,198.11 L327.93,198.02 L329.45,197.93 L330.98,197.84 L332.5,197.74 L334.02,197.65 L335.55,197.56 L337.07,197.47 L338.6,197.39 L340.12,197.3 L341.65,197.22 L343.18,197.15 L344.7,197.07 L346.23,197 L347.75,196.94 L349.27,196.88 L350.8,196.82 L352.32,196.77 L353.85,196.72 L355.38,196.67 L356.9,196.63 L358.43,196.59 L359.95,196.55 L361.48,196.52 L363,196.48" fill="none" stroke="#5ba6e1" stroke-width="1.1" />
<line x1="307.6" y1="196.34" x2="307.6" y2="201" stroke="#5ba6e1" stroke-width="0.7" />
<line x1="306.7" y1="196.34" x2="308.5" y2="196.34" stroke="#5ba6e1" stroke-width="0.7" />
<line x1="306.7" y1="201" x2="308.5" y2="201" stroke="#5ba6e1" stroke-width="0.7" />
<circle cx="307.6" cy="198.67" r="1.35" fill="#5ba6e1"/>
<line x1="321.4" y1="196.34" x2="321.4" y2="201" stroke="#5ba6e1" stroke-width="0.7" />
<line x1="320.5" y1="196.34" x2="322.3" y2="196.34" stroke="#5ba6e1" stroke-width="0.7" />
<line x1="320.5" y1="201" x2="322.3" y2="201" stroke="#5ba6e1" stroke-width="0.7" />
<circle cx="321.4" cy="198.67" r="1.35" fill="#5ba6e1"/>
<line x1="335.3" y1="195.72" x2="335.3" y2="200.38" stroke="#5ba6e1" stroke-width="0.7" />
<line x1="334.4" y1="195.72" x2="336.2" y2="195.72" stroke="#5ba6e1" stroke-width="0.7" />
<line x1="334.4" y1="200.38" x2="336.2" y2="200.38" stroke="#5ba6e1" stroke-width="0.7" />
<circle cx="335.3" cy="198.05" r="1.35" fill="#5ba6e1"/>
<line x1="349.1" y1="194.64" x2="349.1" y2="199.29" stroke="#5ba6e1" stroke-width="0.7" />
<line x1="348.2" y1="194.64" x2="350" y2="194.64" stroke="#5ba6e1" stroke-width="0.7" />
<line x1="348.2" y1="199.29" x2="350" y2="199.29" stroke="#5ba6e1" stroke-width="0.7" />
<circle cx="349.1" cy="196.97" r="1.35" fill="#5ba6e1"/>
<line x1="363" y1="195.41" x2="363" y2="198.51" stroke="#5ba6e1" stroke-width="0.7" />
<line x1="362.1" y1="195.41" x2="363.9" y2="195.41" stroke="#5ba6e1" stroke-width="0.7" />
<line x1="362.1" y1="198.51" x2="363.9" y2="198.51" stroke="#5ba6e1" stroke-width="0.7" />
<circle cx="363" cy="196.97" r="1.35" fill="#5ba6e1"/>
<line x1="307.6" y1="195.88" x2="307.6" y2="200.53" stroke="#41475a" stroke-width="0.7" />
<line x1="306.7" y1="195.88" x2="308.5" y2="195.88" stroke="#41475a" stroke-width="0.7" />
<line x1="306.7" y1="200.53" x2="308.5" y2="200.53" stroke="#41475a" stroke-width="0.7" />
<circle cx="307.6" cy="198.2" r="1.4" fill="#41475a"/>
<line x1="321.4" y1="194.64" x2="321.4" y2="199.29" stroke="#41475a" stroke-width="0.7" />
<line x1="320.5" y1="194.64" x2="322.3" y2="194.64" stroke="#41475a" stroke-width="0.7" />
<line x1="320.5" y1="199.29" x2="322.3" y2="199.29" stroke="#41475a" stroke-width="0.7" />
<circle cx="321.4" cy="196.97" r="1.4" fill="#41475a"/>
<line x1="335.3" y1="191.69" x2="335.3" y2="196.34" stroke="#41475a" stroke-width="0.7" />
<line x1="334.4" y1="191.69" x2="336.2" y2="191.69" stroke="#41475a" stroke-width="0.7" />
<line x1="334.4" y1="196.34" x2="336.2" y2="196.34" stroke="#41475a" stroke-width="0.7" />
<circle cx="335.3" cy="194.02" r="1.4" fill="#41475a"/>
<line x1="349.1" y1="189.99" x2="349.1" y2="194.64" stroke="#41475a" stroke-width="0.7" />
<line x1="348.2" y1="189.99" x2="350" y2="189.99" stroke="#41475a" stroke-width="0.7" />
<line x1="348.2" y1="194.64" x2="350" y2="194.64" stroke="#41475a" stroke-width="0.7" />
<circle cx="349.1" cy="192.31" r="1.4" fill="#41475a"/>
<line x1="363" y1="189.53" x2="363" y2="194.17" stroke="#41475a" stroke-width="0.7" />
<line x1="362.1" y1="189.53" x2="363.9" y2="189.53" stroke="#41475a" stroke-width="0.7" />
<line x1="362.1" y1="194.17" x2="363.9" y2="194.17" stroke="#41475a" stroke-width="0.7" />
<circle cx="363" cy="191.85" r="1.4" fill="#41475a"/>
<line x1="297.5" y1="198.1" x2="297.5" y2="201.1" stroke="#5ba6e1" stroke-width="0.7" />
<line x1="296.7" y1="198.1" x2="298.3" y2="198.1" stroke="#5ba6e1" stroke-width="0.7" />
<line x1="296.7" y1="201.1" x2="298.3" y2="201.1" stroke="#5ba6e1" stroke-width="0.7" />
<circle cx="297.5" cy="199.6" r="1.35" fill="#5ba6e1"/>
<rect x="377.2" y="196.47" width="2.2" height="4.72" fill="#c9157c"/>
<text x="307.6" y="193.44" font-size="4.37" fill="#333" text-anchor="middle">ns</text>
<text x="321.4" y="193.44" font-size="4.37" fill="#333" text-anchor="middle">ns</text>
<circle cx="334.53" cy="188.1" r="0.7" fill="#222"/>
<circle cx="336.08" cy="188.1" r="0.7" fill="#222"/>
<circle cx="349.1" cy="186.9" r="0.7" fill="#222"/>
<circle cx="361.45" cy="186.4" r="0.7" fill="#222"/>
<circle cx="363" cy="186.4" r="0.7" fill="#222"/>
<circle cx="364.55" cy="186.4" r="0.7" fill="#222"/>
<text x="300.7" y="169.6" font-size="7.6" fill="#111" stroke="#111" stroke-width="0.12" textLength="64.6" lengthAdjust="spacingAndGlyphs">T-cell degranulation</text>
<text transform="translate(276.9,200.2) rotate(-90)" font-size="7.4" fill="#111" stroke="#111" stroke-width="0.2" text-anchor="middle" textLength="50" lengthAdjust="spacingAndGlyphs">CD107a<tspan font-size="3.84" dy="-2.36">+</tspan><tspan dy="2.36">​</tspan> T cells (%)</text>
<text x="310.8" y="245.4" font-size="7.1" fill="#111" stroke="#111" stroke-width="0.2" textLength="53" lengthAdjust="spacingAndGlyphs">Talquetamab (μg/mL)</text>
<text transform="translate(299,229.5) rotate(-90)" font-size="5.8" fill="#222" stroke="#222" stroke-width="0.08" text-anchor="end" textLength="35.5" lengthAdjust="spacingAndGlyphs">Solvent control</text>
<text transform="translate(380.2,229.5) rotate(-90)" font-size="5.8" fill="#222" stroke="#222" stroke-width="0.08" text-anchor="end" textLength="40.5" lengthAdjust="spacingAndGlyphs">Dara (0.1 μg/mL)</text>
<line x1="34" y1="312.7" x2="34" y2="363.1" stroke="#111" stroke-width="1.1" />
<line x1="31.2" y1="359.2" x2="34" y2="359.2" stroke="#111" stroke-width="0.8" />
<text x="28.6" y="361.2" font-size="5.6" fill="#222" stroke="#222" stroke-width="0.15" text-anchor="end">-20</text>
<line x1="31.2" y1="344.9" x2="34" y2="344.9" stroke="#111" stroke-width="0.8" />
<text x="28.6" y="346.9" font-size="5.6" fill="#222" stroke="#222" stroke-width="0.15" text-anchor="end">0</text>
<line x1="31.2" y1="330.6" x2="34" y2="330.6" stroke="#111" stroke-width="0.8" />
<text x="28.6" y="332.6" font-size="5.6" fill="#222" stroke="#222" stroke-width="0.15" text-anchor="end">20</text>
<line x1="31.2" y1="316.3" x2="34" y2="316.3" stroke="#111" stroke-width="0.8" />
<text x="28.6" y="318.3" font-size="5.6" fill="#222" stroke="#222" stroke-width="0.15" text-anchor="end">40</text>
<line x1="33.45" y1="363.1" x2="38.2" y2="363.1" stroke="#111" stroke-width="1.1" />
<line x1="36" y1="363.1" x2="36" y2="365.3" stroke="#333" stroke-width="0.7" />
<line x1="38.2" y1="360.5" x2="38.2" y2="365.5" stroke="#222" stroke-width="0.8" />
<line x1="40.5" y1="360.3" x2="40.5" y2="365.9" stroke="#111" stroke-width="0.8" />
<line x1="40.5" y1="363.1" x2="111.3" y2="363.1" stroke="#111" stroke-width="1.1" />
<line x1="111.3" y1="360.3" x2="111.3" y2="365.9" stroke="#111" stroke-width="0.8" />
<line x1="115" y1="360.3" x2="115" y2="365.9" stroke="#111" stroke-width="0.8" />
<line x1="115" y1="363.1" x2="119" y2="363.1" stroke="#111" stroke-width="1.1" />
<line x1="117" y1="363.1" x2="117" y2="364.9" stroke="#555" stroke-width="0.6" />
<line x1="44" y1="363.1" x2="44" y2="365.5" stroke="#111" stroke-width="0.8" />
<text x="46.2" y="374.5" font-size="5.8" fill="#222" stroke="#222" stroke-width="0.08" text-anchor="middle">0.001</text>
<line x1="60.3" y1="363.1" x2="60.3" y2="365.5" stroke="#111" stroke-width="0.8" />
<line x1="55.41" y1="363.1" x2="55.41" y2="364.3" stroke="#333" stroke-width="0.6" />
<text x="60.3" y="374.5" font-size="5.8" fill="#222" stroke="#222" stroke-width="0.08" text-anchor="middle">0.01</text>
<line x1="76.6" y1="363.1" x2="76.6" y2="365.5" stroke="#111" stroke-width="0.8" />
<line x1="71.71" y1="363.1" x2="71.71" y2="364.3" stroke="#333" stroke-width="0.6" />
<text x="76.6" y="374.5" font-size="5.8" fill="#222" stroke="#222" stroke-width="0.08" text-anchor="middle">0.1</text>
<line x1="92.9" y1="363.1" x2="92.9" y2="365.5" stroke="#111" stroke-width="0.8" />
<line x1="88.01" y1="363.1" x2="88.01" y2="364.3" stroke="#333" stroke-width="0.6" />
<text x="92.9" y="374.5" font-size="5.8" fill="#222" stroke="#222" stroke-width="0.08" text-anchor="middle">1</text>
<line x1="109.2" y1="363.1" x2="109.2" y2="365.5" stroke="#111" stroke-width="0.8" />
<line x1="104.31" y1="363.1" x2="104.31" y2="364.3" stroke="#333" stroke-width="0.6" />
<text x="109.2" y="374.5" font-size="5.8" fill="#222" stroke="#222" stroke-width="0.08" text-anchor="middle">10</text>
<line x1="36.2" y1="344.5" x2="118.5" y2="344.5" stroke="#111" stroke-width="1.0" stroke-dasharray="1.0 1.3"/>
<path d="M40,345.37 L41.57,345.32 L43.14,345.26 L44.71,345.18 L46.28,345.09 L47.85,344.98 L49.42,344.85 L50.99,344.7 L52.56,344.52 L54.13,344.3 L55.7,344.05 L57.27,343.76 L58.84,343.42 L60.41,343.03 L61.98,342.6 L63.55,342.11 L65.12,341.58 L66.69,341 L68.26,340.38 L69.83,339.74 L71.4,339.08 L72.97,338.41 L74.54,337.75 L76.11,337.12 L77.68,336.51 L79.25,335.94 L80.82,335.42 L82.39,334.94 L83.96,334.52 L85.53,334.14 L87.1,333.82 L88.67,333.53 L90.24,333.29 L91.81,333.08 L93.38,332.91 L94.95,332.76 L96.52,332.64 L98.09,332.53 L99.66,332.44 L101.23,332.37 L102.8,332.31" fill="none" stroke="#41475a" stroke-width="1.1" />
<path d="M36,350.12 L37.67,350.12 L39.34,350.12 L41.01,350.11 L42.68,350.11 L44.35,350.11 L46.02,350.11 L47.69,350.1 L49.36,350.1 L51.03,350.09 L52.7,350.07 L54.37,350.05 L56.04,350.03 L57.71,349.99 L59.38,349.94 L61.05,349.87 L62.72,349.78 L64.39,349.64 L66.06,349.46 L67.73,349.21 L69.4,348.87 L71.07,348.41 L72.74,347.82 L74.41,347.04 L76.08,346.07 L77.75,344.87 L79.42,343.48 L81.09,341.91 L82.76,340.25 L84.43,338.57 L86.1,336.96 L87.77,335.51 L89.44,334.26 L91.11,333.22 L92.78,332.39 L94.45,331.75 L96.12,331.25 L97.79,330.88 L99.46,330.61 L101.13,330.41 L102.8,330.26" fill="none" stroke="#5ba6e1" stroke-width="1.1" />
<line x1="45.7" y1="349.9" x2="45.7" y2="357.05" stroke="#5ba6e1" stroke-width="0.7" />
<line x1="44.8" y1="349.9" x2="46.6" y2="349.9" stroke="#5ba6e1" stroke-width="0.7" />
<line x1="44.8" y1="357.05" x2="46.6" y2="357.05" stroke="#5ba6e1" stroke-width="0.7" />
<circle cx="45.7" cy="353.48" r="1.35" fill="#5ba6e1"/>
<line x1="56.9" y1="348.12" x2="56.9" y2="356.7" stroke="#5ba6e1" stroke-width="0.7" />
<line x1="56" y1="348.12" x2="57.8" y2="348.12" stroke="#5ba6e1" stroke-width="0.7" />
<line x1="56" y1="356.7" x2="57.8" y2="356.7" stroke="#5ba6e1" stroke-width="0.7" />
<circle cx="56.9" cy="352.41" r="1.35" fill="#5ba6e1"/>
<line x1="68.5" y1="344.9" x2="68.5" y2="353.48" stroke="#5ba6e1" stroke-width="0.7" />
<line x1="67.6" y1="344.9" x2="69.4" y2="344.9" stroke="#5ba6e1" stroke-width="0.7" />
<line x1="67.6" y1="353.48" x2="69.4" y2="353.48" stroke="#5ba6e1" stroke-width="0.7" />
<circle cx="68.5" cy="349.19" r="1.35" fill="#5ba6e1"/>
<line x1="79.5" y1="340.61" x2="79.5" y2="347.76" stroke="#5ba6e1" stroke-width="0.7" />
<line x1="78.6" y1="340.61" x2="80.4" y2="340.61" stroke="#5ba6e1" stroke-width="0.7" />
<line x1="78.6" y1="347.76" x2="80.4" y2="347.76" stroke="#5ba6e1" stroke-width="0.7" />
<circle cx="79.5" cy="344.19" r="1.35" fill="#5ba6e1"/>
<line x1="91.2" y1="332.03" x2="91.2" y2="337.75" stroke="#5ba6e1" stroke-width="0.7" />
<line x1="90.3" y1="332.03" x2="92.1" y2="332.03" stroke="#5ba6e1" stroke-width="0.7" />
<line x1="90.3" y1="337.75" x2="92.1" y2="337.75" stroke="#5ba6e1" stroke-width="0.7" />
<circle cx="91.2" cy="334.89" r="1.35" fill="#5ba6e1"/>
<line x1="102.8" y1="317.01" x2="102.8" y2="342.75" stroke="#5ba6e1" stroke-width="0.7" />
<line x1="101.9" y1="317.01" x2="103.7" y2="317.01" stroke="#5ba6e1" stroke-width="0.7" />
<line x1="101.9" y1="342.75" x2="103.7" y2="342.75" stroke="#5ba6e1" stroke-width="0.7" />
<circle cx="102.8" cy="329.88" r="1.35" fill="#5ba6e1"/>
<line x1="45.7" y1="342.04" x2="45.7" y2="347.76" stroke="#41475a" stroke-width="0.7" />
<line x1="44.8" y1="342.04" x2="46.6" y2="342.04" stroke="#41475a" stroke-width="0.7" />
<line x1="44.8" y1="347.76" x2="46.6" y2="347.76" stroke="#41475a" stroke-width="0.7" />
<circle cx="45.7" cy="344.9" r="1.4" fill="#41475a"/>
<line x1="56.9" y1="340.61" x2="56.9" y2="347.76" stroke="#41475a" stroke-width="0.7" />
<line x1="56" y1="340.61" x2="57.8" y2="340.61" stroke="#41475a" stroke-width="0.7" />
<line x1="56" y1="347.76" x2="57.8" y2="347.76" stroke="#41475a" stroke-width="0.7" />
<circle cx="56.9" cy="344.19" r="1.4" fill="#41475a"/>
<line x1="68.5" y1="336.32" x2="68.5" y2="343.47" stroke="#41475a" stroke-width="0.7" />
<line x1="67.6" y1="336.32" x2="69.4" y2="336.32" stroke="#41475a" stroke-width="0.7" />
<line x1="67.6" y1="343.47" x2="69.4" y2="343.47" stroke="#41475a" stroke-width="0.7" />
<circle cx="68.5" cy="339.89" r="1.4" fill="#41475a"/>
<line x1="79.5" y1="332.75" x2="79.5" y2="339.89" stroke="#41475a" stroke-width="0.7" />
<line x1="78.6" y1="332.75" x2="80.4" y2="332.75" stroke="#41475a" stroke-width="0.7" />
<line x1="78.6" y1="339.89" x2="80.4" y2="339.89" stroke="#41475a" stroke-width="0.7" />
<circle cx="79.5" cy="336.32" r="1.4" fill="#41475a"/>
<line x1="91.2" y1="330.6" x2="91.2" y2="337.75" stroke="#41475a" stroke-width="0.7" />
<line x1="90.3" y1="330.6" x2="92.1" y2="330.6" stroke="#41475a" stroke-width="0.7" />
<line x1="90.3" y1="337.75" x2="92.1" y2="337.75" stroke="#41475a" stroke-width="0.7" />
<circle cx="91.2" cy="334.17" r="1.4" fill="#41475a"/>
<line x1="102.8" y1="322.02" x2="102.8" y2="340.61" stroke="#41475a" stroke-width="0.7" />
<line x1="101.9" y1="322.02" x2="103.7" y2="322.02" stroke="#41475a" stroke-width="0.7" />
<line x1="101.9" y1="340.61" x2="103.7" y2="340.61" stroke="#41475a" stroke-width="0.7" />
<circle cx="102.8" cy="331.31" r="1.4" fill="#41475a"/>
<line x1="36.2" y1="343.4" x2="36.2" y2="346.4" stroke="#5ba6e1" stroke-width="0.7" />
<line x1="35.4" y1="343.4" x2="37" y2="343.4" stroke="#5ba6e1" stroke-width="0.7" />
<line x1="35.4" y1="346.4" x2="37" y2="346.4" stroke="#5ba6e1" stroke-width="0.7" />
<circle cx="36.2" cy="344.9" r="1.35" fill="#5ba6e1"/>
<line x1="117" y1="352.05" x2="117" y2="362.06" stroke="#c9157c" stroke-width="0.8" />
<line x1="116" y1="352.05" x2="118" y2="352.05" stroke="#c9157c" stroke-width="0.8" />
<line x1="116" y1="362.06" x2="118" y2="362.06" stroke="#c9157c" stroke-width="0.8" />
<circle cx="117" cy="357.05" r="1.3" fill="#c9157c"/>
<circle cx="44.93" cy="336.3" r="0.7" fill="#222"/>
<circle cx="46.48" cy="336.3" r="0.7" fill="#222"/>
<circle cx="56.12" cy="335.2" r="0.7" fill="#222"/>
<circle cx="57.67" cy="335.2" r="0.7" fill="#222"/>
<circle cx="67.72" cy="331.4" r="0.7" fill="#222"/>
<circle cx="69.27" cy="331.4" r="0.7" fill="#222"/>
<text x="79.5" y="329.44" font-size="4.37" fill="#333" text-anchor="middle">ns</text>
<text x="91.2" y="327.54" font-size="4.37" fill="#333" text-anchor="middle">ns</text>
<text x="102.8" y="314.84" font-size="4.37" fill="#333" text-anchor="middle">ns</text>
<circle cx="39.4" cy="317.4" r="1.3" fill="#41475a"/>
<circle cx="39.4" cy="323.6" r="1.3" fill="#5ba6e1"/>
<text x="43.2" y="319" font-size="4.9" fill="#222" stroke="#222" stroke-width="0.1" textLength="15.71" lengthAdjust="spacingAndGlyphs">No Pom</text>
<text x="43.2" y="325.2" font-size="4.9" fill="#222" stroke="#222" stroke-width="0.1" textLength="12.69" lengthAdjust="spacingAndGlyphs">+ Pom</text>
<text x="59" y="307.5" font-size="7.6" fill="#111" stroke="#111" stroke-width="0.12" textLength="33.4" lengthAdjust="spacingAndGlyphs">T-cell lysis</text>
<text transform="translate(14.4,338) rotate(-90)" font-size="7.4" fill="#111" stroke="#111" stroke-width="0.2" text-anchor="middle" textLength="23" lengthAdjust="spacingAndGlyphs">Lysis (%)</text>
<text x="49" y="386" font-size="7.1" fill="#111" stroke="#111" stroke-width="0.2" textLength="52.9" lengthAdjust="spacingAndGlyphs">Talquetamab (μg/mL)</text>
<text transform="translate(37.7,369.9) rotate(-90)" font-size="5.8" fill="#222" stroke="#222" stroke-width="0.08" text-anchor="end" textLength="35.5" lengthAdjust="spacingAndGlyphs">Solvent control</text>
<text transform="translate(118.9,369.9) rotate(-90)" font-size="5.8" fill="#222" stroke="#222" stroke-width="0.08" text-anchor="end" textLength="27" lengthAdjust="spacingAndGlyphs">Pom (2 μM)</text>
<line x1="164.4" y1="315.5" x2="164.4" y2="363.1" stroke="#111" stroke-width="1.1" />
<line x1="161.6" y1="357.8" x2="164.4" y2="357.8" stroke="#111" stroke-width="0.8" />
<text x="159" y="359.8" font-size="5.6" fill="#222" stroke="#222" stroke-width="0.15" text-anchor="end">0</text>
<line x1="161.6" y1="344.73" x2="164.4" y2="344.73" stroke="#111" stroke-width="0.8" />
<text x="159" y="346.73" font-size="5.6" fill="#222" stroke="#222" stroke-width="0.15" text-anchor="end">25</text>
<line x1="161.6" y1="331.65" x2="164.4" y2="331.65" stroke="#111" stroke-width="0.8" />
<text x="159" y="333.65" font-size="5.6" fill="#222" stroke="#222" stroke-width="0.15" text-anchor="end">50</text>
<line x1="161.6" y1="318.57" x2="164.4" y2="318.57" stroke="#111" stroke-width="0.8" />
<text x="159" y="320.57" font-size="5.6" fill="#222" stroke="#222" stroke-width="0.15" text-anchor="end">75</text>
<line x1="163.85" y1="363.1" x2="168.6" y2="363.1" stroke="#111" stroke-width="1.1" />
<line x1="166.4" y1="363.1" x2="166.4" y2="365.3" stroke="#333" stroke-width="0.7" />
<line x1="168.6" y1="360.5" x2="168.6" y2="365.5" stroke="#222" stroke-width="0.8" />
<line x1="170.9" y1="360.3" x2="170.9" y2="365.9" stroke="#111" stroke-width="0.8" />
<line x1="170.9" y1="363.1" x2="241.7" y2="363.1" stroke="#111" stroke-width="1.1" />
<line x1="241.7" y1="360.3" x2="241.7" y2="365.9" stroke="#111" stroke-width="0.8" />
<line x1="245.4" y1="360.3" x2="245.4" y2="365.9" stroke="#111" stroke-width="0.8" />
<line x1="245.4" y1="363.1" x2="249.4" y2="363.1" stroke="#111" stroke-width="1.1" />
<line x1="247.4" y1="363.1" x2="247.4" y2="364.9" stroke="#555" stroke-width="0.6" />
<line x1="173.7" y1="363.1" x2="173.7" y2="365.5" stroke="#111" stroke-width="0.8" />
<text x="175.9" y="374.5" font-size="5.8" fill="#222" stroke="#222" stroke-width="0.08" text-anchor="middle">0.001</text>
<line x1="190" y1="363.1" x2="190" y2="365.5" stroke="#111" stroke-width="0.8" />
<line x1="185.11" y1="363.1" x2="185.11" y2="364.3" stroke="#333" stroke-width="0.6" />
<text x="190" y="374.5" font-size="5.8" fill="#222" stroke="#222" stroke-width="0.08" text-anchor="middle">0.01</text>
<line x1="206.3" y1="363.1" x2="206.3" y2="365.5" stroke="#111" stroke-width="0.8" />
<line x1="201.41" y1="363.1" x2="201.41" y2="364.3" stroke="#333" stroke-width="0.6" />
<text x="206.3" y="374.5" font-size="5.8" fill="#222" stroke="#222" stroke-width="0.08" text-anchor="middle">0.1</text>
<line x1="222.6" y1="363.1" x2="222.6" y2="365.5" stroke="#111" stroke-width="0.8" />
<line x1="217.71" y1="363.1" x2="217.71" y2="364.3" stroke="#333" stroke-width="0.6" />
<text x="222.6" y="374.5" font-size="5.8" fill="#222" stroke="#222" stroke-width="0.08" text-anchor="middle">1</text>
<line x1="238.9" y1="363.1" x2="238.9" y2="365.5" stroke="#111" stroke-width="0.8" />
<line x1="234.01" y1="363.1" x2="234.01" y2="364.3" stroke="#333" stroke-width="0.6" />
<text x="238.9" y="374.5" font-size="5.8" fill="#222" stroke="#222" stroke-width="0.08" text-anchor="middle">10</text>
<line x1="166.6" y1="357.5" x2="248.9" y2="357.5" stroke="#111" stroke-width="1.0" stroke-dasharray="1.0 1.3"/>
<path d="M171,351.32 L172.55,351.14 L174.1,350.93 L175.66,350.7 L177.21,350.44 L178.76,350.14 L180.31,349.81 L181.87,349.44 L183.42,349.02 L184.97,348.56 L186.53,348.05 L188.08,347.49 L189.63,346.87 L191.18,346.19 L192.73,345.47 L194.29,344.69 L195.84,343.85 L197.39,342.97 L198.94,342.05 L200.5,341.09 L202.05,340.1 L203.6,339.1 L205.16,338.09 L206.71,337.07 L208.26,336.07 L209.81,335.09 L211.37,334.14 L212.92,333.22 L214.47,332.35 L216.02,331.53 L217.57,330.76 L219.13,330.04 L220.68,329.38 L222.23,328.77 L223.78,328.22 L225.34,327.72 L226.89,327.26 L228.44,326.86 L230,326.49 L231.55,326.17 L233.1,325.88" fill="none" stroke="#41475a" stroke-width="1.1" />
<path d="M171,351.03 L172.55,350.79 L174.1,350.51 L175.66,350.19 L177.21,349.83 L178.76,349.41 L180.31,348.95 L181.87,348.43 L183.42,347.84 L184.97,347.19 L186.53,346.47 L188.08,345.69 L189.63,344.84 L191.18,343.92 L192.73,342.94 L194.29,341.9 L195.84,340.82 L197.39,339.71 L198.94,338.57 L200.5,337.43 L202.05,336.29 L203.6,335.16 L205.16,334.07 L206.71,333.02 L208.26,332.02 L209.81,331.08 L211.37,330.2 L212.92,329.39 L214.47,328.65 L216.02,327.97 L217.57,327.37 L219.13,326.82 L220.68,326.34 L222.23,325.91 L223.78,325.53 L225.34,325.19 L226.89,324.9 L228.44,324.65 L230,324.42 L231.55,324.23 L233.1,324.06" fill="none" stroke="#5ba6e1" stroke-width="1.1" />
<line x1="166.5" y1="351.52" x2="171" y2="350.74" stroke="#5ba6e1" stroke-width="0.9" stroke-dasharray="2 1.2"/>
<line x1="175.4" y1="349.43" x2="175.4" y2="351.52" stroke="#5ba6e1" stroke-width="0.7" />
<line x1="174.5" y1="349.43" x2="176.3" y2="349.43" stroke="#5ba6e1" stroke-width="0.7" />
<line x1="174.5" y1="351.52" x2="176.3" y2="351.52" stroke="#5ba6e1" stroke-width="0.7" />
<circle cx="175.4" cy="350.48" r="1.35" fill="#5ba6e1"/>
<line x1="187" y1="344.2" x2="187" y2="347.34" stroke="#5ba6e1" stroke-width="0.7" />
<line x1="186.1" y1="344.2" x2="187.9" y2="344.2" stroke="#5ba6e1" stroke-width="0.7" />
<line x1="186.1" y1="347.34" x2="187.9" y2="347.34" stroke="#5ba6e1" stroke-width="0.7" />
<circle cx="187" cy="345.77" r="1.35" fill="#5ba6e1"/>
<line x1="198.7" y1="333.74" x2="198.7" y2="342.11" stroke="#5ba6e1" stroke-width="0.7" />
<line x1="197.8" y1="333.74" x2="199.6" y2="333.74" stroke="#5ba6e1" stroke-width="0.7" />
<line x1="197.8" y1="342.11" x2="199.6" y2="342.11" stroke="#5ba6e1" stroke-width="0.7" />
<circle cx="198.7" cy="337.93" r="1.35" fill="#5ba6e1"/>
<line x1="210.3" y1="326.94" x2="210.3" y2="335.31" stroke="#5ba6e1" stroke-width="0.7" />
<line x1="209.4" y1="326.94" x2="211.2" y2="326.94" stroke="#5ba6e1" stroke-width="0.7" />
<line x1="209.4" y1="335.31" x2="211.2" y2="335.31" stroke="#5ba6e1" stroke-width="0.7" />
<circle cx="210.3" cy="331.13" r="1.35" fill="#5ba6e1"/>
<line x1="221.9" y1="323.81" x2="221.9" y2="330.08" stroke="#5ba6e1" stroke-width="0.7" />
<line x1="221" y1="323.81" x2="222.8" y2="323.81" stroke="#5ba6e1" stroke-width="0.7" />
<line x1="221" y1="330.08" x2="222.8" y2="330.08" stroke="#5ba6e1" stroke-width="0.7" />
<circle cx="221.9" cy="326.94" r="1.35" fill="#5ba6e1"/>
<line x1="233.1" y1="318.05" x2="233.1" y2="326.42" stroke="#5ba6e1" stroke-width="0.7" />
<line x1="232.2" y1="318.05" x2="234" y2="318.05" stroke="#5ba6e1" stroke-width="0.7" />
<line x1="232.2" y1="326.42" x2="234" y2="326.42" stroke="#5ba6e1" stroke-width="0.7" />
<circle cx="233.1" cy="322.24" r="1.35" fill="#5ba6e1"/>
<line x1="175.4" y1="349.43" x2="175.4" y2="351.52" stroke="#41475a" stroke-width="0.7" />
<line x1="174.5" y1="349.43" x2="176.3" y2="349.43" stroke="#41475a" stroke-width="0.7" />
<line x1="174.5" y1="351.52" x2="176.3" y2="351.52" stroke="#41475a" stroke-width="0.7" />
<circle cx="175.4" cy="350.48" r="1.4" fill="#41475a"/>
<line x1="187" y1="346.82" x2="187" y2="349.95" stroke="#41475a" stroke-width="0.7" />
<line x1="186.1" y1="346.82" x2="187.9" y2="346.82" stroke="#41475a" stroke-width="0.7" />
<line x1="186.1" y1="349.95" x2="187.9" y2="349.95" stroke="#41475a" stroke-width="0.7" />
<circle cx="187" cy="348.39" r="1.4" fill="#41475a"/>
<line x1="198.7" y1="340.02" x2="198.7" y2="345.25" stroke="#41475a" stroke-width="0.7" />
<line x1="197.8" y1="340.02" x2="199.6" y2="340.02" stroke="#41475a" stroke-width="0.7" />
<line x1="197.8" y1="345.25" x2="199.6" y2="345.25" stroke="#41475a" stroke-width="0.7" />
<circle cx="198.7" cy="342.63" r="1.4" fill="#41475a"/>
<line x1="210.3" y1="332.7" x2="210.3" y2="340.02" stroke="#41475a" stroke-width="0.7" />
<line x1="209.4" y1="332.7" x2="211.2" y2="332.7" stroke="#41475a" stroke-width="0.7" />
<line x1="209.4" y1="340.02" x2="211.2" y2="340.02" stroke="#41475a" stroke-width="0.7" />
<circle cx="210.3" cy="336.36" r="1.4" fill="#41475a"/>
<line x1="221.9" y1="328.51" x2="221.9" y2="334.79" stroke="#41475a" stroke-width="0.7" />
<line x1="221" y1="328.51" x2="222.8" y2="328.51" stroke="#41475a" stroke-width="0.7" />
<line x1="221" y1="334.79" x2="222.8" y2="334.79" stroke="#41475a" stroke-width="0.7" />
<circle cx="221.9" cy="331.65" r="1.4" fill="#41475a"/>
<line x1="233.1" y1="321.97" x2="233.1" y2="330.34" stroke="#41475a" stroke-width="0.7" />
<line x1="232.2" y1="321.97" x2="234" y2="321.97" stroke="#41475a" stroke-width="0.7" />
<line x1="232.2" y1="330.34" x2="234" y2="330.34" stroke="#41475a" stroke-width="0.7" />
<circle cx="233.1" cy="326.16" r="1.4" fill="#41475a"/>
<line x1="166.6" y1="350.02" x2="166.6" y2="353.02" stroke="#5ba6e1" stroke-width="0.7" />
<line x1="165.8" y1="350.02" x2="167.4" y2="350.02" stroke="#5ba6e1" stroke-width="0.7" />
<line x1="165.8" y1="353.02" x2="167.4" y2="353.02" stroke="#5ba6e1" stroke-width="0.7" />
<circle cx="166.6" cy="351.52" r="1.35" fill="#5ba6e1"/>
<rect x="246.3" y="349.19" width="2.2" height="1.52" fill="#c9157c"/>
<text x="175.4" y="346.34" font-size="4.37" fill="#333" text-anchor="middle">ns</text>
<text x="187" y="341.24" font-size="4.37" fill="#333" text-anchor="middle">ns</text>
<circle cx="197.15" cy="329.3" r="0.7" fill="#222"/>
<circle cx="198.7" cy="329.3" r="0.7" fill="#222"/>
<circle cx="200.25" cy="329.3" r="0.7" fill="#222"/>
<circle cx="209.53" cy="323.6" r="0.7" fill="#222"/>
<circle cx="211.08" cy="323.6" r="0.7" fill="#222"/>
<circle cx="219.58" cy="320.4" r="0.7" fill="#222"/>
<circle cx="221.13" cy="320.4" r="0.7" fill="#222"/>
<circle cx="222.68" cy="320.4" r="0.7" fill="#222"/>
<circle cx="224.23" cy="320.4" r="0.7" fill="#222"/>
<text x="233.1" y="316.74" font-size="4.37" fill="#333" text-anchor="middle">ns</text>
<text x="180.8" y="310.7" font-size="7.6" fill="#111" stroke="#111" stroke-width="0.12" textLength="50.7" lengthAdjust="spacingAndGlyphs">T-cell activation</text>
<text transform="translate(146.9,339.3) rotate(-90)" font-size="7.4" fill="#111" stroke="#111" stroke-width="0.2" text-anchor="middle" textLength="43.2" lengthAdjust="spacingAndGlyphs">CD25<tspan font-size="3.84" dy="-2.36">+</tspan><tspan dy="2.36">​</tspan> T-cell (%)</text>
<text x="179" y="385.6" font-size="7.1" fill="#111" stroke="#111" stroke-width="0.2" textLength="53.5" lengthAdjust="spacingAndGlyphs">Talquetamab (μg/mL)</text>
<text transform="translate(168.1,369.9) rotate(-90)" font-size="5.8" fill="#222" stroke="#222" stroke-width="0.08" text-anchor="end" textLength="35.5" lengthAdjust="spacingAndGlyphs">Solvent control</text>
<text transform="translate(249.3,369.9) rotate(-90)" font-size="5.8" fill="#222" stroke="#222" stroke-width="0.08" text-anchor="end" textLength="27" lengthAdjust="spacingAndGlyphs">Pom (2 μM)</text>
<line x1="295.2" y1="313" x2="295.2" y2="363.1" stroke="#111" stroke-width="1.1" />
<line x1="292.4" y1="357.8" x2="295.2" y2="357.8" stroke="#111" stroke-width="0.8" />
<text x="289.8" y="359.8" font-size="5.6" fill="#222" stroke="#222" stroke-width="0.15" text-anchor="end">0</text>
<line x1="292.4" y1="347.4" x2="295.2" y2="347.4" stroke="#111" stroke-width="0.8" />
<text x="289.8" y="349.4" font-size="5.6" fill="#222" stroke="#222" stroke-width="0.15" text-anchor="end">10</text>
<line x1="292.4" y1="337" x2="295.2" y2="337" stroke="#111" stroke-width="0.8" />
<text x="289.8" y="339" font-size="5.6" fill="#222" stroke="#222" stroke-width="0.15" text-anchor="end">20</text>
<line x1="292.4" y1="326.6" x2="295.2" y2="326.6" stroke="#111" stroke-width="0.8" />
<text x="289.8" y="328.6" font-size="5.6" fill="#222" stroke="#222" stroke-width="0.15" text-anchor="end">30</text>
<line x1="292.4" y1="316.2" x2="295.2" y2="316.2" stroke="#111" stroke-width="0.8" />
<text x="289.8" y="318.2" font-size="5.6" fill="#222" stroke="#222" stroke-width="0.15" text-anchor="end">40</text>
<line x1="294.65" y1="363.1" x2="299.4" y2="363.1" stroke="#111" stroke-width="1.1" />
<line x1="297.2" y1="363.1" x2="297.2" y2="365.3" stroke="#333" stroke-width="0.7" />
<line x1="299.4" y1="360.5" x2="299.4" y2="365.5" stroke="#222" stroke-width="0.8" />
<line x1="301.7" y1="360.3" x2="301.7" y2="365.9" stroke="#111" stroke-width="0.8" />
<line x1="301.7" y1="363.1" x2="372.5" y2="363.1" stroke="#111" stroke-width="1.1" />
<line x1="372.5" y1="360.3" x2="372.5" y2="365.9" stroke="#111" stroke-width="0.8" />
<line x1="376.2" y1="360.3" x2="376.2" y2="365.9" stroke="#111" stroke-width="0.8" />
<line x1="376.2" y1="363.1" x2="380.2" y2="363.1" stroke="#111" stroke-width="1.1" />
<line x1="378.2" y1="363.1" x2="378.2" y2="364.9" stroke="#555" stroke-width="0.6" />
<line x1="304.5" y1="363.1" x2="304.5" y2="365.5" stroke="#111" stroke-width="0.8" />
<text x="306.7" y="374.5" font-size="5.8" fill="#222" stroke="#222" stroke-width="0.08" text-anchor="middle">0.001</text>
<line x1="320.8" y1="363.1" x2="320.8" y2="365.5" stroke="#111" stroke-width="0.8" />
<line x1="315.91" y1="363.1" x2="315.91" y2="364.3" stroke="#333" stroke-width="0.6" />
<text x="320.8" y="374.5" font-size="5.8" fill="#222" stroke="#222" stroke-width="0.08" text-anchor="middle">0.01</text>
<line x1="337.1" y1="363.1" x2="337.1" y2="365.5" stroke="#111" stroke-width="0.8" />
<line x1="332.21" y1="363.1" x2="332.21" y2="364.3" stroke="#333" stroke-width="0.6" />
<text x="337.1" y="374.5" font-size="5.8" fill="#222" stroke="#222" stroke-width="0.08" text-anchor="middle">0.1</text>
<line x1="353.4" y1="363.1" x2="353.4" y2="365.5" stroke="#111" stroke-width="0.8" />
<line x1="348.51" y1="363.1" x2="348.51" y2="364.3" stroke="#333" stroke-width="0.6" />
<text x="353.4" y="374.5" font-size="5.8" fill="#222" stroke="#222" stroke-width="0.08" text-anchor="middle">1</text>
<line x1="369.7" y1="363.1" x2="369.7" y2="365.5" stroke="#111" stroke-width="0.8" />
<line x1="364.81" y1="363.1" x2="364.81" y2="364.3" stroke="#333" stroke-width="0.6" />
<text x="369.7" y="374.5" font-size="5.8" fill="#222" stroke="#222" stroke-width="0.08" text-anchor="middle">10</text>
<line x1="297.4" y1="357.5" x2="379.7" y2="357.5" stroke="#111" stroke-width="1.0" stroke-dasharray="1.0 1.3"/>
<path d="M300,347.4 L301.58,347.39 L303.15,347.37 L304.73,347.33 L306.31,347.27 L307.89,347.19 L309.47,347.08 L311.04,346.95 L312.62,346.8 L314.2,346.62 L315.77,346.41 L317.35,346.18 L318.93,345.93 L320.51,345.65 L322.09,345.33 L323.66,345 L325.24,344.63 L326.82,344.23 L328.39,343.81 L329.97,343.36 L331.55,342.87 L333.13,342.36 L334.71,341.82 L336.28,341.24 L337.86,340.64 L339.44,340 L341.01,339.34 L342.59,338.64 L344.17,337.91 L345.75,337.15 L347.33,336.35 L348.9,335.53 L350.48,334.67 L352.06,333.78 L353.63,332.85 L355.21,331.89 L356.79,330.9 L358.37,329.88 L359.95,328.82 L361.52,327.73 L363.1,326.6" fill="none" stroke="#41475a" stroke-width="1.1" />
<path d="M300,348.02 L301.58,348.02 L303.15,348 L304.73,347.95 L306.31,347.89 L307.89,347.81 L309.47,347.7 L311.04,347.57 L312.62,347.42 L314.2,347.24 L315.77,347.04 L317.35,346.81 L318.93,346.55 L320.51,346.27 L322.09,345.96 L323.66,345.62 L325.24,345.25 L326.82,344.86 L328.39,344.43 L329.97,343.98 L331.55,343.5 L333.13,342.98 L334.71,342.44 L336.28,341.87 L337.86,341.26 L339.44,340.63 L341.01,339.96 L342.59,339.26 L344.17,338.53 L345.75,337.77 L347.33,336.98 L348.9,336.15 L350.48,335.29 L352.06,334.4 L353.63,333.48 L355.21,332.52 L356.79,331.53 L358.37,330.5 L359.95,329.44 L361.52,328.35 L363.1,327.22" fill="none" stroke="#5ba6e1" stroke-width="1.1" />
<line x1="306" y1="343.76" x2="306" y2="347.92" stroke="#5ba6e1" stroke-width="0.7" />
<line x1="305.1" y1="343.76" x2="306.9" y2="343.76" stroke="#5ba6e1" stroke-width="0.7" />
<line x1="305.1" y1="347.92" x2="306.9" y2="347.92" stroke="#5ba6e1" stroke-width="0.7" />
<circle cx="306" cy="345.84" r="1.35" fill="#5ba6e1"/>
<line x1="317.6" y1="343.24" x2="317.6" y2="347.4" stroke="#5ba6e1" stroke-width="0.7" />
<line x1="316.7" y1="343.24" x2="318.5" y2="343.24" stroke="#5ba6e1" stroke-width="0.7" />
<line x1="316.7" y1="347.4" x2="318.5" y2="347.4" stroke="#5ba6e1" stroke-width="0.7" />
<circle cx="317.6" cy="345.32" r="1.35" fill="#5ba6e1"/>
<line x1="328.8" y1="338.04" x2="328.8" y2="346.36" stroke="#5ba6e1" stroke-width="0.7" />
<line x1="327.9" y1="338.04" x2="329.7" y2="338.04" stroke="#5ba6e1" stroke-width="0.7" />
<line x1="327.9" y1="346.36" x2="329.7" y2="346.36" stroke="#5ba6e1" stroke-width="0.7" />
<circle cx="328.8" cy="342.2" r="1.35" fill="#5ba6e1"/>
<line x1="340.4" y1="334.19" x2="340.4" y2="342.51" stroke="#5ba6e1" stroke-width="0.7" />
<line x1="339.5" y1="334.19" x2="341.3" y2="334.19" stroke="#5ba6e1" stroke-width="0.7" />
<line x1="339.5" y1="342.51" x2="341.3" y2="342.51" stroke="#5ba6e1" stroke-width="0.7" />
<circle cx="340.4" cy="338.35" r="1.35" fill="#5ba6e1"/>
<line x1="352.1" y1="330.76" x2="352.1" y2="339.08" stroke="#5ba6e1" stroke-width="0.7" />
<line x1="351.2" y1="330.76" x2="353" y2="330.76" stroke="#5ba6e1" stroke-width="0.7" />
<line x1="351.2" y1="339.08" x2="353" y2="339.08" stroke="#5ba6e1" stroke-width="0.7" />
<circle cx="352.1" cy="334.92" r="1.35" fill="#5ba6e1"/>
<line x1="363.1" y1="320.36" x2="363.1" y2="337" stroke="#5ba6e1" stroke-width="0.7" />
<line x1="362.2" y1="320.36" x2="364" y2="320.36" stroke="#5ba6e1" stroke-width="0.7" />
<line x1="362.2" y1="337" x2="364" y2="337" stroke="#5ba6e1" stroke-width="0.7" />
<circle cx="363.1" cy="328.68" r="1.35" fill="#5ba6e1"/>
<line x1="306" y1="344.8" x2="306" y2="347.92" stroke="#41475a" stroke-width="0.7" />
<line x1="305.1" y1="344.8" x2="306.9" y2="344.8" stroke="#41475a" stroke-width="0.7" />
<line x1="305.1" y1="347.92" x2="306.9" y2="347.92" stroke="#41475a" stroke-width="0.7" />
<circle cx="306" cy="346.36" r="1.4" fill="#41475a"/>
<line x1="317.6" y1="344.18" x2="317.6" y2="347.3" stroke="#41475a" stroke-width="0.7" />
<line x1="316.7" y1="344.18" x2="318.5" y2="344.18" stroke="#41475a" stroke-width="0.7" />
<line x1="316.7" y1="347.3" x2="318.5" y2="347.3" stroke="#41475a" stroke-width="0.7" />
<circle cx="317.6" cy="345.74" r="1.4" fill="#41475a"/>
<line x1="328.8" y1="340.43" x2="328.8" y2="344.59" stroke="#41475a" stroke-width="0.7" />
<line x1="327.9" y1="340.43" x2="329.7" y2="340.43" stroke="#41475a" stroke-width="0.7" />
<line x1="327.9" y1="344.59" x2="329.7" y2="344.59" stroke="#41475a" stroke-width="0.7" />
<circle cx="328.8" cy="342.51" r="1.4" fill="#41475a"/>
<line x1="340.4" y1="335.23" x2="340.4" y2="341.47" stroke="#41475a" stroke-width="0.7" />
<line x1="339.5" y1="335.23" x2="341.3" y2="335.23" stroke="#41475a" stroke-width="0.7" />
<line x1="339.5" y1="341.47" x2="341.3" y2="341.47" stroke="#41475a" stroke-width="0.7" />
<circle cx="340.4" cy="338.35" r="1.4" fill="#41475a"/>
<line x1="352.1" y1="332.01" x2="352.1" y2="338.25" stroke="#41475a" stroke-width="0.7" />
<line x1="351.2" y1="332.01" x2="353" y2="332.01" stroke="#41475a" stroke-width="0.7" />
<line x1="351.2" y1="338.25" x2="353" y2="338.25" stroke="#41475a" stroke-width="0.7" />
<circle cx="352.1" cy="335.13" r="1.4" fill="#41475a"/>
<line x1="363.1" y1="318.28" x2="363.1" y2="334.92" stroke="#41475a" stroke-width="0.7" />
<line x1="362.2" y1="318.28" x2="364" y2="318.28" stroke="#41475a" stroke-width="0.7" />
<line x1="362.2" y1="334.92" x2="364" y2="334.92" stroke="#41475a" stroke-width="0.7" />
<circle cx="363.1" cy="326.6" r="1.4" fill="#41475a"/>
<line x1="297.4" y1="345.9" x2="297.4" y2="348.9" stroke="#5ba6e1" stroke-width="0.7" />
<line x1="296.6" y1="345.9" x2="298.2" y2="345.9" stroke="#5ba6e1" stroke-width="0.7" />
<line x1="296.6" y1="348.9" x2="298.2" y2="348.9" stroke="#5ba6e1" stroke-width="0.7" />
<circle cx="297.4" cy="347.4" r="1.35" fill="#5ba6e1"/>
<rect x="377.1" y="343.26" width="2.2" height="4.12" fill="#c9157c"/>
<text x="306" y="342.24" font-size="4.37" fill="#333" text-anchor="middle">ns</text>
<text x="317.6" y="341.24" font-size="4.37" fill="#333" text-anchor="middle">ns</text>
<text x="328.8" y="336.04" font-size="4.37" fill="#333" text-anchor="middle">ns</text>
<text x="340.4" y="331.74" font-size="4.37" fill="#333" text-anchor="middle">ns</text>
<text x="352.1" y="330.04" font-size="4.37" fill="#333" text-anchor="middle">ns</text>
<text x="363.1" y="314.84" font-size="4.37" fill="#333" text-anchor="middle">ns</text>
<text x="304.5" y="308" font-size="7.6" fill="#111" stroke="#111" stroke-width="0.12" textLength="64.5" lengthAdjust="spacingAndGlyphs">T-cell degranulation</text>
<text transform="translate(276.9,337.6) rotate(-90)" font-size="7.4" fill="#111" stroke="#111" stroke-width="0.2" text-anchor="middle" textLength="48.3" lengthAdjust="spacingAndGlyphs">CD107a<tspan font-size="3.84" dy="-2.36">+</tspan><tspan dy="2.36">​</tspan> T-cell (%)</text>
<text x="309" y="385.6" font-size="7.1" fill="#111" stroke="#111" stroke-width="0.2" textLength="53.9" lengthAdjust="spacingAndGlyphs">Talquetamab (μg/mL)</text>
<text transform="translate(298.9,369.9) rotate(-90)" font-size="5.8" fill="#222" stroke="#222" stroke-width="0.08" text-anchor="end" textLength="35.5" lengthAdjust="spacingAndGlyphs">Solvent control</text>
<text transform="translate(380.1,369.9) rotate(-90)" font-size="5.8" fill="#222" stroke="#222" stroke-width="0.08" text-anchor="end" textLength="27" lengthAdjust="spacingAndGlyphs">Pom (2 μM)</text>
<line x1="421.7" y1="312.3" x2="421.7" y2="363.3" stroke="#111" stroke-width="1.1" />
<line x1="418.9" y1="357.8" x2="421.7" y2="357.8" stroke="#111" stroke-width="0.8" />
<text x="416.3" y="359.8" font-size="5.6" fill="#222" stroke="#222" stroke-width="0.15" text-anchor="end">0</text>
<line x1="418.9" y1="347.22" x2="421.7" y2="347.22" stroke="#111" stroke-width="0.8" />
<text x="416.3" y="349.22" font-size="5.6" fill="#222" stroke="#222" stroke-width="0.15" text-anchor="end">20</text>
<line x1="418.9" y1="336.64" x2="421.7" y2="336.64" stroke="#111" stroke-width="0.8" />
<text x="416.3" y="338.64" font-size="5.6" fill="#222" stroke="#222" stroke-width="0.15" text-anchor="end">40</text>
<line x1="418.9" y1="326.06" x2="421.7" y2="326.06" stroke="#111" stroke-width="0.8" />
<text x="416.3" y="328.06" font-size="5.6" fill="#222" stroke="#222" stroke-width="0.15" text-anchor="end">60</text>
<line x1="418.9" y1="315.48" x2="421.7" y2="315.48" stroke="#111" stroke-width="0.8" />
<text x="416.3" y="317.48" font-size="5.6" fill="#222" stroke="#222" stroke-width="0.15" text-anchor="end">80</text>
<line x1="421.15" y1="363.3" x2="425.9" y2="363.3" stroke="#111" stroke-width="1.1" />
<line x1="423.7" y1="363.3" x2="423.7" y2="365.5" stroke="#333" stroke-width="0.7" />
<line x1="425.9" y1="360.7" x2="425.9" y2="365.7" stroke="#222" stroke-width="0.8" />
<line x1="428.2" y1="360.5" x2="428.2" y2="366.1" stroke="#111" stroke-width="0.8" />
<line x1="428.2" y1="363.3" x2="499" y2="363.3" stroke="#111" stroke-width="1.1" />
<line x1="499" y1="360.5" x2="499" y2="366.1" stroke="#111" stroke-width="0.8" />
<line x1="502.7" y1="360.5" x2="502.7" y2="366.1" stroke="#111" stroke-width="0.8" />
<line x1="502.7" y1="363.3" x2="506.7" y2="363.3" stroke="#111" stroke-width="1.1" />
<line x1="504.7" y1="363.3" x2="504.7" y2="365.1" stroke="#555" stroke-width="0.6" />
<line x1="431.6" y1="363.3" x2="431.6" y2="365.7" stroke="#111" stroke-width="0.8" />
<text x="434.8" y="374.7" font-size="5.8" fill="#222" stroke="#222" stroke-width="0.08" text-anchor="middle">0.001</text>
<line x1="451.8" y1="363.3" x2="451.8" y2="365.7" stroke="#111" stroke-width="0.8" />
<line x1="445.74" y1="363.3" x2="445.74" y2="364.5" stroke="#333" stroke-width="0.6" />
<text x="452.8" y="374.7" font-size="5.8" fill="#222" stroke="#222" stroke-width="0.08" text-anchor="middle">0.01</text>
<line x1="472" y1="363.3" x2="472" y2="365.7" stroke="#111" stroke-width="0.8" />
<line x1="465.94" y1="363.3" x2="465.94" y2="364.5" stroke="#333" stroke-width="0.6" />
<text x="473" y="374.7" font-size="5.8" fill="#222" stroke="#222" stroke-width="0.08" text-anchor="middle">0.1</text>
<line x1="492.2" y1="363.3" x2="492.2" y2="365.7" stroke="#111" stroke-width="0.8" />
<line x1="486.14" y1="363.3" x2="486.14" y2="364.5" stroke="#333" stroke-width="0.6" />
<text x="493.2" y="374.7" font-size="5.8" fill="#222" stroke="#222" stroke-width="0.08" text-anchor="middle">1</text>
<line x1="423.9" y1="357.5" x2="506.2" y2="357.5" stroke="#111" stroke-width="1.0" stroke-dasharray="1.0 1.3"/>
<path d="M423,357.8 L424.71,357.8 L426.42,357.8 L428.12,357.8 L429.83,357.8 L431.54,357.8 L433.25,357.8 L434.95,357.79 L436.66,357.79 L438.37,357.78 L440.07,357.77 L441.78,357.76 L443.49,357.74 L445.2,357.71 L446.91,357.66 L448.61,357.59 L450.32,357.49 L452.03,357.34 L453.74,357.12 L455.44,356.81 L457.15,356.41 L458.86,355.9 L460.56,355.3 L462.27,354.65 L463.98,354.02 L465.69,353.45 L467.39,352.97 L469.1,352.6 L470.81,352.32 L472.52,352.13 L474.23,351.99 L475.93,351.9 L477.64,351.84 L479.35,351.8 L481.06,351.77 L482.76,351.75 L484.47,351.74 L486.18,351.73 L487.88,351.73 L489.59,351.72 L491.3,351.72" fill="none" stroke="#41475a" stroke-width="1.1" />
<path d="M423,357.77 L424.71,357.76 L426.42,357.76 L428.12,357.75 L429.83,357.73 L431.54,357.72 L433.25,357.7 L434.95,357.67 L436.66,357.64 L438.37,357.61 L440.07,357.56 L441.78,357.51 L443.49,357.44 L445.2,357.35 L446.91,357.25 L448.61,357.12 L450.32,356.96 L452.03,356.77 L453.74,356.54 L455.44,356.25 L457.15,355.91 L458.86,355.5 L460.56,355 L462.27,354.42 L463.98,353.74 L465.69,352.94 L467.39,352.03 L469.1,350.99 L470.81,349.84 L472.52,348.58 L474.23,347.23 L475.93,345.81 L477.64,344.36 L479.35,342.89 L481.06,341.45 L482.76,340.07 L484.47,338.77 L486.18,337.57 L487.88,336.49 L489.59,335.52 L491.3,334.68" fill="none" stroke="#5ba6e1" stroke-width="1.1" />
<line x1="434" y1="357.27" x2="434" y2="358.33" stroke="#5ba6e1" stroke-width="0.7" />
<line x1="433.1" y1="357.27" x2="434.9" y2="357.27" stroke="#5ba6e1" stroke-width="0.7" />
<line x1="433.1" y1="358.33" x2="434.9" y2="358.33" stroke="#5ba6e1" stroke-width="0.7" />
<circle cx="434" cy="357.8" r="1.35" fill="#5ba6e1"/>
<line x1="448.4" y1="356.21" x2="448.4" y2="359.39" stroke="#5ba6e1" stroke-width="0.7" />
<line x1="447.5" y1="356.21" x2="449.3" y2="356.21" stroke="#5ba6e1" stroke-width="0.7" />
<line x1="447.5" y1="359.39" x2="449.3" y2="359.39" stroke="#5ba6e1" stroke-width="0.7" />
<circle cx="448.4" cy="357.8" r="1.35" fill="#5ba6e1"/>
<line x1="462.8" y1="349.87" x2="462.8" y2="355.16" stroke="#5ba6e1" stroke-width="0.7" />
<line x1="461.9" y1="349.87" x2="463.7" y2="349.87" stroke="#5ba6e1" stroke-width="0.7" />
<line x1="461.9" y1="355.16" x2="463.7" y2="355.16" stroke="#5ba6e1" stroke-width="0.7" />
<circle cx="462.8" cy="352.51" r="1.35" fill="#5ba6e1"/>
<line x1="476.9" y1="338.23" x2="476.9" y2="348.81" stroke="#5ba6e1" stroke-width="0.7" />
<line x1="476" y1="338.23" x2="477.8" y2="338.23" stroke="#5ba6e1" stroke-width="0.7" />
<line x1="476" y1="348.81" x2="477.8" y2="348.81" stroke="#5ba6e1" stroke-width="0.7" />
<circle cx="476.9" cy="343.52" r="1.35" fill="#5ba6e1"/>
<line x1="491.3" y1="324.47" x2="491.3" y2="341.4" stroke="#5ba6e1" stroke-width="0.7" />
<line x1="490.4" y1="324.47" x2="492.2" y2="324.47" stroke="#5ba6e1" stroke-width="0.7" />
<line x1="490.4" y1="341.4" x2="492.2" y2="341.4" stroke="#5ba6e1" stroke-width="0.7" />
<circle cx="491.3" cy="332.94" r="1.35" fill="#5ba6e1"/>
<line x1="434" y1="357.27" x2="434" y2="358.33" stroke="#41475a" stroke-width="0.7" />
<line x1="433.1" y1="357.27" x2="434.9" y2="357.27" stroke="#41475a" stroke-width="0.7" />
<line x1="433.1" y1="358.33" x2="434.9" y2="358.33" stroke="#41475a" stroke-width="0.7" />
<circle cx="434" cy="357.8" r="1.4" fill="#41475a"/>
<line x1="448.4" y1="357.27" x2="448.4" y2="358.33" stroke="#41475a" stroke-width="0.7" />
<line x1="447.5" y1="357.27" x2="449.3" y2="357.27" stroke="#41475a" stroke-width="0.7" />
<line x1="447.5" y1="358.33" x2="449.3" y2="358.33" stroke="#41475a" stroke-width="0.7" />
<circle cx="448.4" cy="357.8" r="1.4" fill="#41475a"/>
<line x1="462.8" y1="355.26" x2="462.8" y2="357.38" stroke="#41475a" stroke-width="0.7" />
<line x1="461.9" y1="355.26" x2="463.7" y2="355.26" stroke="#41475a" stroke-width="0.7" />
<line x1="461.9" y1="357.38" x2="463.7" y2="357.38" stroke="#41475a" stroke-width="0.7" />
<circle cx="462.8" cy="356.32" r="1.4" fill="#41475a"/>
<line x1="476.9" y1="347.48" x2="476.9" y2="355.95" stroke="#41475a" stroke-width="0.7" />
<line x1="476" y1="347.48" x2="477.8" y2="347.48" stroke="#41475a" stroke-width="0.7" />
<line x1="476" y1="355.95" x2="477.8" y2="355.95" stroke="#41475a" stroke-width="0.7" />
<circle cx="476.9" cy="351.72" r="1.4" fill="#41475a"/>
<line x1="491.3" y1="346.43" x2="491.3" y2="357.01" stroke="#41475a" stroke-width="0.7" />
<line x1="490.4" y1="346.43" x2="492.2" y2="346.43" stroke="#41475a" stroke-width="0.7" />
<line x1="490.4" y1="357.01" x2="492.2" y2="357.01" stroke="#41475a" stroke-width="0.7" />
<circle cx="491.3" cy="351.72" r="1.4" fill="#41475a"/>
<line x1="423.9" y1="356.3" x2="423.9" y2="359.3" stroke="#5ba6e1" stroke-width="0.7" />
<line x1="423.1" y1="356.3" x2="424.7" y2="356.3" stroke="#5ba6e1" stroke-width="0.7" />
<line x1="423.1" y1="359.3" x2="424.7" y2="359.3" stroke="#5ba6e1" stroke-width="0.7" />
<circle cx="423.9" cy="357.8" r="1.35" fill="#5ba6e1"/>
<rect x="503.6" y="357.14" width="2.2" height="1.32" fill="#c9157c"/>
<text x="434" y="351.84" font-size="4.37" fill="#333" text-anchor="middle">ns</text>
<text x="448.4" y="351.84" font-size="4.37" fill="#333" text-anchor="middle">ns</text>
<text x="462.8" y="346.54" font-size="4.37" fill="#333" text-anchor="middle">ns</text>
<text x="476.9" y="334.34" font-size="4.37" fill="#333" text-anchor="middle">ns</text>
<circle cx="489.75" cy="318.9" r="0.7" fill="#222"/>
<circle cx="491.3" cy="318.9" r="0.7" fill="#222"/>
<circle cx="492.85" cy="318.9" r="0.7" fill="#222"/>
<circle cx="427.1" cy="316.8" r="1.3" fill="#41475a"/>
<circle cx="427.1" cy="323.4" r="1.3" fill="#5ba6e1"/>
<text x="430.9" y="318.4" font-size="4.9" fill="#222" stroke="#222" stroke-width="0.1" textLength="15.71" lengthAdjust="spacingAndGlyphs">No Pom</text>
<text x="430.9" y="325" font-size="4.9" fill="#222" stroke="#222" stroke-width="0.1" textLength="12.69" lengthAdjust="spacingAndGlyphs">+ Pom</text>
<text x="452" y="307.3" font-size="7.6" fill="#111" stroke="#111" stroke-width="0.12" textLength="23.8" lengthAdjust="spacingAndGlyphs">GZMB</text>
<text transform="translate(403.2,337.2) rotate(-90)" font-size="7.4" fill="#111" stroke="#111" stroke-width="0.2" text-anchor="middle" textLength="49.2" lengthAdjust="spacingAndGlyphs">GZMB (fold change)</text>
<text x="436.4" y="385.6" font-size="7.1" fill="#111" stroke="#111" stroke-width="0.2" textLength="55" lengthAdjust="spacingAndGlyphs">Talquetamab (μg/mL)</text>
<text transform="translate(425.4,370.1) rotate(-90)" font-size="5.8" fill="#222" stroke="#222" stroke-width="0.08" text-anchor="end" textLength="35.5" lengthAdjust="spacingAndGlyphs">Solvent control</text>
<text transform="translate(506.6,370.1) rotate(-90)" font-size="5.8" fill="#222" stroke="#222" stroke-width="0.08" text-anchor="end" textLength="27" lengthAdjust="spacingAndGlyphs">Pom (2 μM)</text>
</svg>
</body></html>
